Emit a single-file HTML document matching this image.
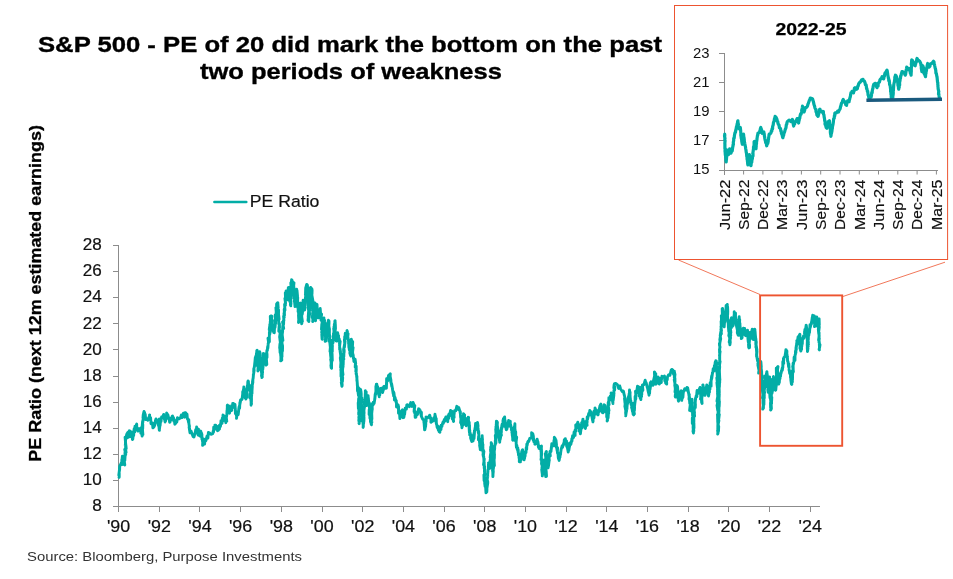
<!DOCTYPE html>
<html><head><meta charset="utf-8"><title>S&amp;P 500 PE Ratio</title>
<style>
html,body{margin:0;padding:0;background:#fff;}
body{width:953px;height:579px;overflow:hidden;position:relative;font-family:"Liberation Sans",sans-serif;}
</style></head><body>
<svg width="953" height="579" viewBox="0 0 953 579" style="position:absolute;left:0;top:0;will-change:transform;font-family:'Liberation Sans',sans-serif">
<rect width="953" height="579" fill="#ffffff"/>
<g font-weight="bold" font-size="22.9" fill="#000" stroke="#000" stroke-width="0.35" text-anchor="middle">
<text x="350" y="52" textLength="624" lengthAdjust="spacingAndGlyphs">S&amp;P 500 - PE of 20 did mark the bottom on the past</text>
<text x="350.9" y="78.7" textLength="302" lengthAdjust="spacingAndGlyphs">two periods of weakness</text>
</g>
<text transform="translate(41.4,293.4) rotate(-90)" text-anchor="middle" font-weight="bold" font-size="16.1" fill="#000" stroke="#000" stroke-width="0.3" textLength="336.5" lengthAdjust="spacingAndGlyphs">PE Ratio (next 12m estimated earnings)</text>
<line x1="214.4" y1="202.1" x2="246.3" y2="202.1" stroke="#02ADA6" stroke-width="2.5" stroke-linecap="round"/>
<text x="249.8" y="207.2" font-size="16.7" fill="#111" stroke="#111" stroke-width="0.2" textLength="69.6" lengthAdjust="spacingAndGlyphs">PE Ratio</text>
<g stroke="#8c8c8c" stroke-width="1" fill="none" shape-rendering="crispEdges">
<line x1="118.5" y1="245.0" x2="118.5" y2="512"/>
<line x1="112.5" y1="506.5" x2="820" y2="506.5"/>
<line x1="112.5" y1="506.5" x2="118.5" y2="506.5"/>
<line x1="112.5" y1="480.5" x2="118.5" y2="480.5"/>
<line x1="112.5" y1="454.5" x2="118.5" y2="454.5"/>
<line x1="112.5" y1="428.5" x2="118.5" y2="428.5"/>
<line x1="112.5" y1="402.5" x2="118.5" y2="402.5"/>
<line x1="112.5" y1="376.5" x2="118.5" y2="376.5"/>
<line x1="112.5" y1="349.5" x2="118.5" y2="349.5"/>
<line x1="112.5" y1="323.5" x2="118.5" y2="323.5"/>
<line x1="112.5" y1="297.5" x2="118.5" y2="297.5"/>
<line x1="112.5" y1="271.5" x2="118.5" y2="271.5"/>
<line x1="112.5" y1="245.5" x2="118.5" y2="245.5"/>
<line x1="159.5" y1="506" x2="159.5" y2="512"/>
<line x1="199.5" y1="506" x2="199.5" y2="512"/>
<line x1="240.5" y1="506" x2="240.5" y2="512"/>
<line x1="281.5" y1="506" x2="281.5" y2="512"/>
<line x1="322.5" y1="506" x2="322.5" y2="512"/>
<line x1="362.5" y1="506" x2="362.5" y2="512"/>
<line x1="403.5" y1="506" x2="403.5" y2="512"/>
<line x1="444.5" y1="506" x2="444.5" y2="512"/>
<line x1="484.5" y1="506" x2="484.5" y2="512"/>
<line x1="525.5" y1="506" x2="525.5" y2="512"/>
<line x1="566.5" y1="506" x2="566.5" y2="512"/>
<line x1="606.5" y1="506" x2="606.5" y2="512"/>
<line x1="647.5" y1="506" x2="647.5" y2="512"/>
<line x1="688.5" y1="506" x2="688.5" y2="512"/>
<line x1="728.5" y1="506" x2="728.5" y2="512"/>
<line x1="769.5" y1="506" x2="769.5" y2="512"/>
<line x1="810.5" y1="506" x2="810.5" y2="512"/>
</g>
<g font-size="16.5" fill="#111" stroke="#111" stroke-width="0.2" text-anchor="end">
<text x="101.8" y="511.1" textLength="9.6" lengthAdjust="spacingAndGlyphs">8</text>
<text x="101.8" y="485.0" textLength="19" lengthAdjust="spacingAndGlyphs">10</text>
<text x="101.8" y="458.9" textLength="19" lengthAdjust="spacingAndGlyphs">12</text>
<text x="101.8" y="432.8" textLength="19" lengthAdjust="spacingAndGlyphs">14</text>
<text x="101.8" y="406.8" textLength="19" lengthAdjust="spacingAndGlyphs">16</text>
<text x="101.8" y="380.7" textLength="19" lengthAdjust="spacingAndGlyphs">18</text>
<text x="101.8" y="354.6" textLength="19" lengthAdjust="spacingAndGlyphs">20</text>
<text x="101.8" y="328.5" textLength="19" lengthAdjust="spacingAndGlyphs">22</text>
<text x="101.8" y="302.4" textLength="19" lengthAdjust="spacingAndGlyphs">24</text>
<text x="101.8" y="276.3" textLength="19" lengthAdjust="spacingAndGlyphs">26</text>
<text x="101.8" y="250.3" textLength="19" lengthAdjust="spacingAndGlyphs">28</text>
</g>
<g font-size="16.6" fill="#111" stroke="#111" stroke-width="0.2" text-anchor="middle">
<text x="118.6" y="532.4" textLength="23.3" lengthAdjust="spacingAndGlyphs">&#39;90</text>
<text x="159.3" y="532.4" textLength="23.3" lengthAdjust="spacingAndGlyphs">&#39;92</text>
<text x="200.0" y="532.4" textLength="23.3" lengthAdjust="spacingAndGlyphs">&#39;94</text>
<text x="240.6" y="532.4" textLength="23.3" lengthAdjust="spacingAndGlyphs">&#39;96</text>
<text x="281.3" y="532.4" textLength="23.3" lengthAdjust="spacingAndGlyphs">&#39;98</text>
<text x="322.0" y="532.4" textLength="23.3" lengthAdjust="spacingAndGlyphs">&#39;00</text>
<text x="362.7" y="532.4" textLength="23.3" lengthAdjust="spacingAndGlyphs">&#39;02</text>
<text x="403.4" y="532.4" textLength="23.3" lengthAdjust="spacingAndGlyphs">&#39;04</text>
<text x="444.0" y="532.4" textLength="23.3" lengthAdjust="spacingAndGlyphs">&#39;06</text>
<text x="484.7" y="532.4" textLength="23.3" lengthAdjust="spacingAndGlyphs">&#39;08</text>
<text x="525.4" y="532.4" textLength="23.3" lengthAdjust="spacingAndGlyphs">&#39;10</text>
<text x="566.1" y="532.4" textLength="23.3" lengthAdjust="spacingAndGlyphs">&#39;12</text>
<text x="606.8" y="532.4" textLength="23.3" lengthAdjust="spacingAndGlyphs">&#39;14</text>
<text x="647.4" y="532.4" textLength="23.3" lengthAdjust="spacingAndGlyphs">&#39;16</text>
<text x="688.1" y="532.4" textLength="23.3" lengthAdjust="spacingAndGlyphs">&#39;18</text>
<text x="728.8" y="532.4" textLength="23.3" lengthAdjust="spacingAndGlyphs">&#39;20</text>
<text x="769.5" y="532.4" textLength="23.3" lengthAdjust="spacingAndGlyphs">&#39;22</text>
<text x="810.2" y="532.4" textLength="23.3" lengthAdjust="spacingAndGlyphs">&#39;24</text>
</g>
<text x="27" y="560.6" font-size="12.7" fill="#333" textLength="275" lengthAdjust="spacingAndGlyphs">Source: Bloomberg, Purpose Investments</text>
<path d="M119.1 477.3 L119.2 477.1 L119.2 473.1 L118.8 475.2 L119.3 471.1 L119.3 471.7 L119.6 466.3 L119.6 470.1 L119.7 466.4 L121.2 463.1 L121.8 463.8 L122.4 464.5 L121.9 459.4 L121.8 461.9 L122.4 456.2 L122.8 457.1 L122.7 459.9 L123.5 457.7 L124.3 463.8 L123.6 461.0 L124.4 464.7 L124.8 464.9 L124.2 460.4 L124.1 463.2 L124.9 458.4 L124.8 460.7 L125.2 454.7 L124.9 457.1 L125.0 452.6 L125.7 454.6 L124.7 449.3 L126.1 452.5 L125.5 448.7 L125.9 445.3 L126.2 448.6 L125.5 442.2 L125.3 445.7 L125.6 439.8 L125.5 442.2 L125.1 437.1 L126.0 439.1 L126.0 437.0 L126.8 434.0 L127.2 435.5 L127.5 432.8 L128.6 431.7 L127.8 437.5 L128.8 437.0 L129.4 433.3 L130.2 436.6 L129.3 430.8 L130.2 431.1 L130.2 433.8 L131.5 432.0 L131.3 436.4 L132.1 434.7 L132.3 438.9 L132.5 439.5 L132.4 436.6 L132.8 439.0 L133.3 433.3 L133.7 435.5 L133.8 431.9 L134.2 428.8 L134.8 431.9 L135.0 426.3 L135.6 427.8 L136.2 425.2 L136.7 424.0 L136.7 430.0 L137.6 428.1 L138.2 431.1 L139.1 430.6 L139.9 428.6 L140.9 427.9 L140.8 433.3 L141.5 430.5 L142.1 436.1 L142.2 435.3 L142.5 433.2 L142.9 434.7 L142.5 430.1 L142.3 431.8 L142.7 427.1 L142.7 428.7 L142.8 424.6 L142.1 426.8 L142.6 421.3 L142.7 423.2 L143.3 418.2 L143.0 420.3 L143.6 415.7 L143.0 417.9 L143.2 415.1 L144.0 411.5 L144.6 412.6 L144.5 416.6 L145.2 414.2 L145.7 419.6 L146.1 418.5 L147.8 420.2 L148.7 417.6 L148.7 419.2 L149.6 416.0 L149.5 415.0 L150.3 419.7 L150.6 417.7 L151.0 423.7 L151.6 422.7 L152.5 423.1 L152.9 427.8 L154.0 426.9 L154.4 424.1 L154.6 425.8 L155.5 420.3 L155.5 422.2 L155.7 420.2 L156.0 418.9 L157.8 422.7 L158.6 425.8 L158.9 423.1 L159.2 429.5 L159.0 426.7 L159.4 430.3 L159.3 430.1 L159.8 426.2 L159.4 427.9 L160.4 422.1 L160.1 425.6 L159.3 419.0 L160.0 420.2 L161.0 421.5 L161.6 416.9 L162.4 417.4 L163.4 415.1 L163.7 414.4 L164.5 419.4 L164.6 417.2 L165.0 421.7 L165.1 421.9 L165.2 418.9 L165.6 420.8 L165.9 416.3 L166.8 417.9 L166.6 413.0 L167.4 414.3 L167.2 418.0 L167.9 414.8 L168.7 418.9 L169.2 418.1 L169.6 422.2 L170.1 421.9 L171.4 418.1 L171.1 419.7 L172.1 416.5 L172.5 416.0 L173.5 420.0 L173.5 417.6 L173.8 421.1 L174.3 419.6 L174.8 424.2 L175.5 423.5 L176.2 421.2 L176.8 422.0 L177.5 417.6 L178.0 418.5 L179.1 418.9 L180.5 417.7 L181.3 415.1 L182.0 417.7 L183.0 414.3 L183.4 413.2 L184.2 416.8 L184.7 417.2 L185.1 412.6 L185.9 413.1 L186.5 416.0 L187.0 414.2 L187.4 419.0 L187.6 418.5 L187.9 418.9 L188.6 422.6 L188.8 419.6 L188.9 423.5 L189.5 427.5 L189.3 425.1 L189.6 428.7 L189.1 427.1 L190.0 432.9 L189.9 431.9 L191.0 431.0 L192.3 434.5 L193.2 436.6 L193.9 437.0 L194.5 434.9 L194.1 436.6 L195.3 432.1 L195.0 434.2 L195.7 429.6 L196.4 430.0 L196.6 427.7 L196.6 426.9 L197.6 432.9 L198.5 429.2 L198.2 435.1 L199.1 431.9 L199.0 435.3 L200.1 436.1 L200.2 431.7 L200.7 431.1 L201.3 434.3 L201.4 432.6 L201.6 436.3 L201.9 434.2 L201.9 439.3 L202.3 437.7 L202.5 441.4 L202.9 439.1 L202.6 445.4 L203.3 444.5 L203.6 441.1 L204.6 444.1 L205.0 439.1 L205.7 439.5 L205.9 440.7 L207.1 435.9 L207.9 438.1 L208.4 432.5 L209.4 432.8 L210.9 434.3 L212.8 433.6 L213.2 431.1 L213.5 432.2 L213.7 427.3 L214.9 429.3 L214.9 425.1 L215.8 425.2 L216.1 428.4 L217.4 426.6 L217.5 430.7 L218.3 430.3 L218.9 427.9 L219.5 428.9 L219.5 425.2 L220.4 426.6 L220.8 423.5 L221.0 420.6 L222.0 423.4 L222.3 418.1 L222.9 421.0 L223.0 415.0 L224.2 416.0 L224.2 419.0 L224.7 417.5 L225.8 422.1 L225.9 418.9 L225.8 422.7 L225.8 422.4 L226.0 418.9 L226.8 421.1 L226.1 416.1 L226.4 417.3 L227.2 412.4 L226.9 414.1 L227.0 410.6 L227.2 412.4 L227.2 408.4 L227.3 409.4 L227.3 405.3 L227.5 405.1 L227.8 409.1 L228.8 405.9 L228.9 410.4 L228.9 409.5 L229.5 411.8 L229.5 413.2 L230.9 406.8 L231.6 410.5 L231.6 405.7 L232.7 407.8 L232.7 403.4 L233.4 403.4 L234.3 407.5 L235.0 404.5 L235.2 407.7 L235.2 410.8 L235.3 408.3 L235.4 413.6 L235.8 411.1 L236.4 415.6 L236.8 413.8 L236.6 417.2 L236.5 418.3 L237.4 412.8 L238.2 414.6 L238.6 411.2 L238.9 407.8 L238.8 409.9 L239.2 406.4 L239.6 408.2 L239.9 402.5 L239.8 404.6 L240.8 399.6 L240.4 400.8 L242.1 399.1 L242.0 399.4 L242.7 394.0 L242.7 396.2 L242.7 391.7 L243.5 393.5 L243.5 389.7 L243.4 390.2 L243.8 387.9 L243.8 387.0 L244.1 391.7 L244.4 390.5 L245.2 395.9 L245.5 393.0 L245.1 397.8 L245.6 395.9 L245.9 399.1 L245.9 398.9 L246.9 394.2 L246.9 397.6 L246.7 391.2 L246.8 394.4 L246.3 389.3 L246.8 392.1 L247.2 386.2 L247.6 389.4 L247.4 385.4 L247.6 386.9 L247.8 381.8 L248.0 383.3 L248.1 380.9 L248.4 381.5 L248.6 385.6 L248.5 383.0 L248.7 388.7 L249.4 385.1 L249.9 388.7 L249.9 390.9 L250.4 390.4 L250.7 394.8 L250.0 393.0 L249.9 397.9 L250.4 394.7 L251.0 401.2 L250.9 397.8 L251.5 403.8 L251.1 400.4 L251.1 404.3 L251.1 405.2 L251.5 400.7 L251.2 401.1 L251.4 397.9 L251.5 399.8 L251.4 394.7 L251.6 396.3 L251.8 391.4 L252.0 393.4 L252.0 388.8 L252.0 391.1 L252.3 386.4 L252.1 387.0 L252.1 386.3 L252.9 382.0 L252.2 384.6 L252.9 380.5 L252.5 381.8 L253.1 378.2 L253.1 378.6 L253.4 375.4 L253.3 374.9 L253.4 375.1 L254.2 370.0 L253.7 372.3 L253.8 368.6 L253.9 369.1 L254.7 364.9 L254.3 367.2 L254.9 362.9 L254.6 364.7 L255.0 361.1 L255.3 357.5 L255.2 361.1 L255.9 356.0 L256.1 358.3 L256.5 353.2 L256.9 355.4 L257.1 350.1 L256.8 350.7 L256.7 352.8 L257.3 352.4 L257.2 355.6 L257.7 353.6 L257.4 360.2 L256.9 356.5 L256.9 362.9 L257.7 360.3 L257.2 365.6 L257.7 363.0 L258.1 366.6 L258.1 365.6 L257.9 371.0 L258.5 369.7 L258.3 366.1 L258.8 369.4 L259.0 362.9 L258.6 365.7 L259.0 360.4 L258.8 362.6 L259.0 357.8 L259.1 360.7 L259.7 355.5 L258.8 357.9 L259.3 352.7 L259.1 355.1 L259.7 351.6 L259.6 351.7 L260.4 356.2 L260.1 353.0 L260.5 359.3 L260.4 356.7 L260.3 360.2 L261.1 358.0 L260.2 363.8 L260.6 362.4 L260.5 365.7 L260.9 364.8 L260.5 369.0 L260.8 367.3 L261.3 370.9 L261.1 369.5 L261.8 374.3 L261.9 371.8 L261.5 376.0 L262.4 373.8 L261.9 377.5 L262.3 376.9 L261.9 373.6 L262.2 374.2 L262.1 370.9 L262.6 372.6 L262.1 367.0 L262.8 369.3 L263.1 364.9 L263.0 367.6 L263.4 361.4 L263.0 364.2 L263.7 358.8 L263.3 361.1 L263.4 357.5 L263.4 359.1 L263.4 353.5 L263.7 354.2 L263.9 356.6 L264.5 354.0 L264.1 359.6 L265.0 358.2 L265.4 363.3 L264.6 359.4 L266.1 365.2 L265.9 364.5 L266.1 361.4 L266.8 364.4 L266.3 357.7 L266.3 361.3 L265.8 354.9 L267.0 357.6 L267.0 353.8 L266.6 355.7 L266.9 350.4 L267.1 350.7 L267.4 350.2 L267.6 346.9 L267.9 348.2 L268.2 343.3 L268.0 345.1 L268.6 341.4 L268.6 342.7 L268.0 338.2 L269.4 341.8 L269.3 336.3 L269.2 337.8 L269.4 335.2 L269.4 332.1 L269.9 334.0 L269.6 329.9 L270.2 332.4 L270.0 327.3 L269.2 329.6 L269.9 325.0 L269.7 326.4 L270.3 322.5 L270.2 322.0 L270.5 322.8 L270.3 316.2 L270.4 320.2 L271.4 315.9 L271.9 316.2 L271.6 320.3 L271.9 319.3 L272.1 322.3 L272.1 321.6 L272.3 325.7 L272.8 324.7 L273.1 328.9 L272.6 325.7 L273.0 330.8 L273.1 328.7 L273.6 332.4 L274.3 332.7 L274.5 327.6 L274.2 329.1 L274.3 324.6 L275.0 327.7 L275.4 323.7 L274.9 320.3 L275.7 323.4 L275.6 318.2 L275.5 319.5 L275.2 315.0 L275.8 317.6 L276.0 313.0 L276.0 315.5 L276.7 309.1 L276.2 311.8 L275.9 307.6 L277.0 310.2 L277.0 304.6 L276.6 307.1 L276.6 303.9 L277.4 303.0 L277.8 302.7 L278.2 307.9 L277.6 306.2 L277.9 309.9 L277.2 307.2 L277.7 313.2 L278.6 309.9 L278.5 315.3 L278.5 313.9 L279.1 319.2 L278.6 316.6 L278.4 320.6 L278.4 319.4 L278.8 322.0 L278.8 324.2 L279.4 323.6 L279.5 327.8 L279.2 324.9 L278.8 331.1 L279.3 328.8 L279.6 332.2 L280.1 331.1 L280.0 334.1 L279.6 337.2 L279.8 335.6 L280.4 339.1 L279.8 338.4 L280.4 342.9 L280.5 341.1 L279.8 345.7 L280.0 343.7 L279.6 348.6 L280.2 344.8 L280.0 350.3 L279.9 348.6 L280.1 352.8 L280.6 351.8 L280.8 355.6 L280.6 354.6 L281.3 359.5 L280.9 355.4 L280.9 360.9 L280.6 360.9 L281.8 360.0 L281.6 356.9 L281.4 358.6 L281.6 354.5 L282.0 356.8 L281.9 351.5 L282.0 353.4 L282.4 348.0 L282.5 351.0 L282.5 345.3 L282.6 349.0 L282.2 343.9 L281.8 344.7 L282.3 339.6 L281.6 343.4 L282.0 338.8 L282.9 340.5 L282.2 334.7 L281.7 337.7 L282.3 334.1 L282.5 330.9 L282.6 332.3 L282.6 328.6 L282.6 330.0 L282.8 325.7 L283.7 328.5 L282.6 321.9 L283.6 324.3 L283.7 320.4 L283.5 320.3 L283.9 320.6 L283.6 316.1 L284.2 317.4 L284.0 313.1 L284.5 315.1 L284.2 309.2 L284.5 312.2 L284.5 308.4 L285.0 310.3 L284.7 306.4 L284.6 304.3 L285.4 305.3 L285.3 301.1 L285.6 303.1 L284.9 298.4 L285.2 300.8 L285.5 296.1 L285.5 297.6 L285.3 292.8 L285.5 295.4 L286.1 291.1 L286.1 290.9 L285.9 294.3 L286.6 292.9 L286.4 296.5 L286.6 294.9 L287.5 299.9 L287.5 299.5 L287.1 295.8 L287.6 299.4 L288.4 293.4 L287.8 296.7 L287.8 291.1 L288.0 292.8 L288.3 287.7 L288.3 289.7 L288.7 287.4 L289.2 287.4 L288.5 292.5 L289.2 290.2 L289.1 294.5 L289.1 292.1 L289.1 297.0 L289.3 294.0 L289.7 298.9 L289.2 297.2 L289.8 301.6 L290.2 300.4 L290.8 305.9 L290.4 304.7 L290.5 302.0 L291.0 304.0 L290.7 299.7 L290.7 300.3 L290.5 297.4 L290.9 298.6 L291.0 294.6 L291.3 295.8 L291.2 291.1 L291.3 294.3 L291.4 288.4 L291.5 290.2 L291.2 286.6 L291.1 288.2 L290.8 282.7 L291.8 286.1 L291.8 281.2 L291.4 282.6 L291.6 279.7 L291.9 280.0 L293.0 283.7 L293.3 284.0 L294.0 282.7 L293.4 289.2 L293.9 286.8 L293.8 290.1 L293.5 289.1 L293.3 294.3 L294.1 291.7 L294.0 295.6 L294.1 294.6 L294.0 298.6 L294.5 297.4 L294.3 301.7 L295.0 299.0 L294.9 304.6 L294.7 302.8 L295.0 306.6 L295.1 306.4 L295.1 303.2 L294.9 305.3 L295.0 300.0 L295.7 302.7 L295.5 298.4 L295.6 300.4 L295.4 294.5 L296.6 296.9 L296.7 292.4 L296.3 294.9 L296.6 289.2 L296.8 290.0 L296.9 292.4 L297.0 290.4 L297.5 296.0 L297.2 294.0 L297.7 298.9 L297.7 297.3 L297.6 302.1 L297.3 299.9 L297.8 305.1 L297.3 301.3 L297.7 307.6 L298.0 306.1 L298.2 308.2 L298.1 311.8 L298.3 309.3 L298.6 313.5 L298.6 311.9 L298.6 316.0 L298.5 315.1 L298.7 318.9 L298.9 318.1 L298.5 322.5 L299.0 322.0 L299.1 319.8 L299.2 320.4 L299.6 316.9 L299.8 318.4 L299.4 312.7 L299.2 315.4 L299.8 311.2 L299.1 313.8 L299.9 307.1 L299.7 310.0 L300.5 304.4 L300.1 307.6 L300.4 303.2 L300.2 303.0 L300.8 307.1 L299.9 303.6 L300.6 308.0 L301.0 306.3 L301.2 311.5 L300.6 309.9 L301.0 313.7 L301.0 312.8 L301.4 316.9 L301.2 314.6 L301.2 320.3 L301.7 317.2 L301.5 322.8 L301.9 320.9 L301.6 323.7 L301.8 323.4 L301.6 319.9 L302.4 321.5 L301.6 316.0 L301.6 318.6 L301.9 313.9 L301.7 317.1 L302.0 312.1 L302.3 314.1 L302.9 308.3 L302.7 311.0 L303.0 305.9 L302.8 307.5 L303.3 302.7 L302.7 304.6 L303.1 300.3 L303.0 301.3 L303.8 304.3 L303.9 302.2 L303.2 307.7 L304.0 305.8 L304.2 309.5 L304.7 309.9 L305.0 306.8 L304.2 310.0 L305.1 303.6 L304.9 307.0 L305.3 301.2 L305.1 303.1 L305.5 298.3 L305.2 300.5 L305.5 297.1 L305.5 298.6 L305.8 293.4 L305.4 294.8 L305.9 291.3 L305.5 293.3 L305.7 287.8 L306.2 290.8 L305.9 287.4 L306.7 284.4 L307.3 284.9 L307.0 287.5 L307.4 285.1 L307.7 289.7 L307.4 288.2 L307.3 293.0 L308.2 290.0 L308.2 295.5 L307.8 294.4 L307.6 298.4 L308.0 295.4 L307.9 300.0 L307.9 299.9 L308.7 304.4 L308.1 302.4 L308.2 305.9 L308.4 304.5 L308.4 308.1 L308.1 307.6 L308.6 310.6 L308.8 310.0 L308.6 314.6 L308.6 311.4 L308.2 317.0 L308.7 314.2 L308.0 320.3 L308.7 318.1 L308.9 320.3 L308.8 321.6 L308.9 315.5 L309.1 317.8 L309.7 313.1 L309.4 315.0 L309.3 311.2 L309.3 312.3 L309.1 307.7 L309.5 311.1 L309.7 306.0 L309.5 306.6 L309.6 302.6 L309.6 304.4 L310.0 301.0 L309.7 302.3 L309.9 296.8 L310.0 299.4 L310.0 295.9 L310.0 297.6 L310.6 291.8 L310.1 293.9 L310.3 290.3 L310.8 292.1 L310.4 287.9 L310.6 287.4 L312.0 289.2 L311.9 292.2 L312.1 290.1 L312.0 294.3 L311.9 292.6 L311.7 298.5 L311.8 294.8 L312.9 300.8 L312.1 299.0 L311.8 303.9 L311.9 300.8 L312.7 305.4 L312.5 302.8 L312.3 307.7 L312.6 305.7 L312.5 310.8 L313.0 308.2 L312.8 312.9 L312.8 312.2 L312.4 317.6 L312.5 315.4 L312.6 318.8 L313.2 316.3 L312.9 320.3 L312.7 321.5 L313.4 316.3 L313.3 318.1 L313.4 313.4 L313.8 314.9 L313.3 309.7 L313.2 313.4 L314.1 308.4 L314.3 309.3 L313.6 304.4 L313.9 307.5 L314.9 302.8 L314.6 303.0 L314.3 306.9 L314.4 304.4 L315.1 308.1 L314.7 307.0 L315.1 310.6 L315.1 309.5 L315.2 314.3 L315.4 312.4 L314.6 316.8 L315.5 313.8 L315.2 318.6 L315.5 318.0 L315.4 320.3 L315.5 320.8 L315.9 316.3 L316.1 318.1 L315.6 313.5 L315.6 315.5 L315.9 311.4 L316.1 312.9 L316.0 308.1 L316.4 310.1 L317.0 305.9 L316.7 307.8 L316.8 304.7 L317.0 304.4 L317.3 309.1 L316.9 307.7 L317.6 311.0 L317.3 310.4 L317.3 314.0 L317.4 312.3 L318.5 317.9 L318.0 316.8 L319.2 312.7 L318.6 315.5 L319.4 310.4 L320.2 313.5 L320.3 309.9 L320.2 308.5 L320.7 315.1 L320.7 313.1 L320.8 316.2 L321.6 314.2 L320.9 320.0 L321.5 318.2 L321.8 321.4 L322.0 322.0 L322.5 320.7 L322.4 326.8 L321.8 324.0 L321.5 329.4 L322.1 327.6 L321.7 332.7 L322.6 329.4 L322.1 335.1 L322.1 332.2 L322.4 336.2 L321.8 334.3 L322.1 339.2 L322.4 339.3 L322.2 336.9 L322.4 338.1 L322.4 333.4 L322.6 335.1 L322.4 330.1 L322.6 332.3 L322.6 327.0 L323.0 330.1 L323.3 324.2 L323.0 326.6 L323.3 322.6 L323.9 324.1 L323.6 319.3 L323.8 322.0 L323.7 318.5 L323.9 317.9 L324.0 322.9 L324.6 320.1 L323.9 326.1 L325.0 322.7 L324.4 328.2 L325.0 325.6 L324.4 330.3 L324.8 328.6 L324.8 332.4 L324.8 332.0 L325.3 336.0 L325.2 334.4 L325.7 339.4 L325.6 337.7 L325.2 341.4 L325.8 341.0 L326.2 337.4 L326.2 339.7 L326.3 335.2 L326.5 338.3 L327.0 333.1 L326.6 335.1 L327.1 330.1 L326.9 331.3 L327.5 328.3 L327.6 330.5 L327.4 325.6 L327.2 327.4 L328.3 321.9 L327.5 325.6 L328.4 320.3 L328.4 320.3 L329.0 324.1 L329.0 321.0 L328.9 325.8 L328.6 324.8 L329.5 329.3 L328.8 326.1 L328.7 332.3 L329.4 329.6 L329.4 333.3 L329.2 332.7 L329.8 336.4 L329.3 333.9 L329.6 337.5 L329.0 341.3 L329.9 339.0 L330.0 343.1 L329.6 340.3 L330.3 346.8 L330.1 344.1 L330.6 349.1 L330.4 346.7 L330.0 351.5 L331.2 348.3 L330.5 354.2 L330.5 352.4 L330.6 354.8 L331.2 357.9 L330.6 355.2 L331.4 361.6 L330.7 359.5 L331.6 364.4 L331.1 361.2 L331.2 366.0 L330.9 365.2 L331.2 367.8 L331.6 368.2 L331.5 363.4 L331.6 366.0 L331.4 360.5 L331.7 362.2 L331.9 357.4 L332.3 360.4 L332.1 354.0 L331.9 354.8 L332.1 354.5 L331.8 349.5 L332.3 351.6 L332.3 347.3 L332.2 349.5 L332.4 346.2 L332.2 342.8 L332.0 346.2 L332.3 340.3 L333.0 342.9 L333.7 337.0 L333.4 340.4 L333.5 334.9 L333.0 337.4 L333.6 334.1 L334.0 331.0 L334.3 334.1 L333.7 328.5 L334.1 330.4 L334.0 326.6 L334.7 328.6 L334.3 324.1 L334.6 324.4 L335.1 320.7 L334.8 321.1 L335.2 324.0 L335.2 321.8 L334.9 327.5 L335.3 323.9 L335.5 328.6 L335.5 328.2 L334.9 332.7 L335.1 329.9 L335.4 335.0 L335.3 332.1 L335.9 337.6 L336.0 335.7 L336.8 341.1 L336.2 339.0 L336.2 341.0 L336.7 340.8 L337.1 337.1 L336.8 339.1 L337.6 332.8 L337.9 334.1 L338.7 338.0 L338.4 335.7 L338.7 339.8 L339.2 338.8 L339.6 341.0 L339.5 344.2 L340.2 341.3 L339.5 346.8 L339.6 345.1 L339.7 349.6 L340.0 348.1 L340.5 351.9 L340.1 351.2 L340.7 355.4 L340.8 353.4 L340.6 357.2 L340.8 356.8 L341.2 361.3 L340.3 357.9 L340.8 361.7 L341.3 364.9 L340.9 362.3 L340.6 367.4 L341.2 366.3 L340.8 370.2 L341.1 367.2 L341.8 373.5 L341.0 371.5 L341.0 376.6 L341.2 374.4 L341.9 379.2 L341.4 376.5 L341.4 380.4 L341.4 379.2 L341.9 383.0 L341.5 382.8 L342.0 386.1 L341.9 386.2 L341.3 382.5 L342.2 385.2 L341.8 380.9 L342.4 381.7 L342.7 377.6 L342.0 380.8 L342.5 375.9 L342.3 376.1 L341.8 371.9 L343.0 374.7 L342.3 368.9 L342.4 371.5 L342.7 368.6 L342.8 366.2 L343.1 367.0 L342.9 363.1 L343.2 364.9 L343.3 360.7 L342.9 362.4 L342.7 356.9 L343.8 359.1 L342.9 354.2 L343.8 356.6 L344.0 351.3 L343.8 353.8 L343.6 349.0 L344.3 351.9 L343.9 347.9 L344.6 344.1 L344.4 347.3 L345.1 341.1 L344.7 343.4 L344.4 339.5 L344.6 341.5 L344.7 336.6 L345.0 339.6 L345.3 333.1 L345.2 334.1 L346.4 334.9 L347.4 331.5 L347.0 330.6 L347.9 335.1 L348.1 333.6 L347.6 338.6 L347.9 337.2 L348.7 341.9 L348.6 340.0 L348.6 343.9 L349.0 341.6 L348.9 347.4 L348.8 345.2 L349.1 347.9 L349.4 350.1 L349.9 349.6 L349.9 353.7 L350.2 351.5 L350.3 354.8 L350.9 356.0 L350.8 351.0 L350.5 353.2 L350.9 348.2 L350.4 349.9 L350.8 344.9 L351.1 346.3 L350.6 340.9 L351.3 344.1 L351.2 339.4 L351.4 339.3 L351.6 342.6 L351.4 340.1 L351.9 344.3 L352.7 341.7 L352.4 347.0 L352.1 346.2 L351.9 350.2 L353.1 347.6 L352.4 353.4 L352.2 349.6 L352.9 354.5 L353.1 354.8 L353.2 355.2 L353.4 358.5 L353.6 358.0 L353.9 361.5 L354.3 361.7 L355.1 359.4 L355.1 359.1 L355.7 363.6 L355.5 361.9 L355.2 367.1 L355.5 364.9 L356.2 368.6 L356.2 366.2 L355.8 371.3 L356.3 368.8 L356.1 374.0 L356.5 373.9 L356.4 374.1 L356.8 377.6 L356.9 376.1 L356.9 381.1 L357.0 379.7 L357.4 384.7 L357.2 382.4 L357.4 386.1 L357.8 386.3 L357.4 385.7 L357.5 391.0 L358.6 387.8 L358.5 393.2 L357.9 390.9 L358.5 395.5 L358.8 394.5 L359.1 399.7 L358.6 398.8 L358.6 399.3 L358.4 403.9 L358.5 401.4 L359.2 405.6 L358.2 402.8 L358.4 408.8 L358.7 405.8 L358.9 410.9 L359.1 409.2 L358.7 414.4 L358.7 412.2 L359.2 416.2 L359.3 414.4 L359.3 418.5 L358.8 417.1 L359.4 421.0 L359.2 419.9 L359.0 423.3 L359.2 423.6 L359.4 420.5 L359.0 422.8 L359.5 418.4 L358.8 420.9 L359.1 415.5 L359.3 417.6 L360.2 411.7 L359.4 414.1 L359.4 410.2 L359.6 411.8 L360.4 406.8 L359.9 408.6 L359.9 405.7 L360.0 406.2 L360.1 401.4 L360.2 403.8 L360.7 399.1 L360.1 401.1 L360.5 396.9 L360.0 399.4 L360.6 393.4 L360.1 395.8 L360.6 392.4 L360.4 394.6 L360.1 389.1 L360.6 389.4 L361.2 393.4 L360.9 390.9 L360.6 395.2 L361.2 393.4 L361.2 397.3 L361.2 395.5 L361.3 400.4 L361.9 398.0 L361.3 403.9 L361.1 401.4 L361.3 406.3 L361.6 404.7 L361.6 408.4 L361.7 407.2 L362.0 410.6 L362.1 409.0 L361.9 414.5 L362.2 412.6 L362.1 415.5 L361.6 413.5 L362.3 417.4 L362.0 420.8 L362.8 418.9 L362.9 422.9 L362.9 422.0 L363.2 425.6 L363.3 423.0 L363.3 426.7 L363.1 427.4 L363.4 422.5 L363.6 423.6 L363.9 419.8 L363.9 421.4 L364.0 417.4 L363.8 418.8 L364.0 414.7 L363.7 416.3 L363.9 411.9 L364.1 413.2 L363.8 409.7 L363.7 412.3 L364.5 406.2 L364.4 407.1 L364.7 406.6 L364.1 401.6 L365.2 404.8 L364.6 399.6 L365.3 402.0 L365.2 396.1 L365.1 398.3 L365.3 393.8 L365.7 396.8 L365.3 390.8 L365.4 391.5 L365.2 395.0 L366.2 391.8 L366.0 398.1 L366.2 395.6 L366.1 400.2 L366.8 397.4 L366.3 403.4 L366.4 400.7 L366.7 405.6 L366.9 405.0 L367.1 402.3 L367.1 403.1 L367.9 398.6 L367.8 400.5 L367.7 396.9 L368.2 398.9 L368.1 395.6 L368.0 395.6 L368.5 399.1 L368.3 398.4 L368.8 402.4 L368.6 400.9 L369.1 405.1 L369.3 402.8 L369.6 408.7 L369.3 406.7 L369.9 411.8 L369.2 409.6 L369.1 414.5 L369.6 413.3 L370.0 412.2 L369.9 418.2 L370.5 415.5 L370.5 420.5 L370.8 418.4 L370.5 421.9 L370.4 419.6 L371.0 423.6 L371.5 424.8 L371.3 419.9 L371.9 422.1 L370.9 415.4 L371.9 418.9 L371.7 412.8 L371.6 414.7 L371.9 411.9 L371.7 413.1 L372.3 408.6 L372.2 409.9 L372.2 407.1 L372.2 403.8 L373.0 405.1 L373.3 402.1 L374.1 403.5 L375.0 397.8 L374.7 398.8 L374.7 400.0 L375.2 394.1 L375.0 397.0 L375.7 392.2 L375.6 394.4 L376.0 389.8 L375.9 391.4 L375.9 386.3 L376.8 388.9 L376.3 384.2 L376.8 384.2 L377.1 388.3 L377.6 386.3 L378.1 390.6 L377.9 387.6 L377.8 393.0 L377.9 390.6 L378.8 395.0 L378.8 392.9 L379.3 396.7 L379.3 396.7 L379.1 391.7 L379.8 395.0 L379.7 388.9 L380.6 391.2 L380.5 388.4 L381.5 388.3 L382.0 391.9 L382.6 392.5 L383.6 388.7 L383.3 390.2 L383.6 386.8 L384.1 386.3 L385.2 388.4 L386.1 388.4 L386.5 385.2 L386.4 388.1 L386.5 382.5 L386.6 384.4 L386.6 378.8 L387.2 380.1 L387.7 380.6 L388.5 375.5 L388.8 377.1 L389.2 374.9 L390.3 373.7 L389.9 380.2 L390.1 376.1 L390.9 380.1 L390.9 382.7 L390.7 380.3 L391.8 386.6 L391.6 383.8 L392.6 389.4 L392.4 388.4 L392.4 388.5 L393.2 393.8 L393.5 391.8 L393.6 395.9 L393.9 392.7 L394.4 396.7 L394.4 400.1 L395.0 397.4 L396.3 403.0 L396.1 400.4 L396.5 402.9 L396.5 407.0 L398.1 404.8 L398.6 407.1 L398.5 410.6 L398.5 407.5 L398.5 413.3 L398.9 410.1 L399.9 415.7 L399.5 412.4 L399.9 418.6 L400.0 417.4 L400.6 415.1 L400.6 417.1 L400.9 411.4 L402.1 413.7 L402.1 410.2 L402.4 409.9 L402.6 413.9 L403.1 413.5 L403.0 417.7 L403.8 417.4 L404.5 414.0 L403.9 416.1 L404.9 411.6 L404.6 414.5 L405.2 408.1 L405.4 409.1 L406.4 409.0 L406.8 404.8 L407.5 404.6 L409.4 406.7 L410.7 402.6 L411.9 406.4 L413.0 402.4 L414.1 405.0 L414.1 407.3 L414.8 405.5 L414.1 411.6 L414.3 408.4 L414.7 413.1 L415.1 411.3 L415.1 416.4 L415.4 413.4 L415.2 417.4 L415.9 417.1 L416.6 412.7 L417.2 413.3 L417.5 414.5 L418.6 408.8 L419.3 409.1 L419.7 411.7 L420.2 410.4 L421.2 415.8 L421.4 412.2 L421.4 416.4 L422.8 419.4 L423.4 419.5 L423.8 419.9 L424.0 422.9 L424.1 421.6 L424.4 425.6 L424.1 423.2 L424.6 429.8 L425.0 427.2 L424.9 429.8 L424.8 429.8 L425.7 425.6 L425.6 426.5 L425.2 421.9 L425.8 424.4 L425.7 419.7 L426.2 421.5 L426.0 417.0 L426.6 417.4 L427.7 417.8 L429.7 415.3 L429.7 415.1 L430.6 418.9 L431.0 418.1 L430.9 422.3 L431.7 421.6 L433.8 420.5 L434.0 417.6 L434.6 419.4 L435.0 414.1 L435.0 415.2 L435.6 418.8 L435.4 416.0 L436.0 421.1 L436.2 418.4 L436.4 423.9 L436.0 421.6 L436.7 424.6 L437.2 427.4 L437.5 425.6 L438.3 430.0 L438.6 429.4 L439.1 431.8 L439.9 432.2 L439.5 426.9 L441.0 429.4 L441.2 425.3 L441.9 426.5 L442.2 424.6 L443.0 422.1 L443.3 423.4 L444.3 419.5 L444.6 421.4 L445.4 418.3 L445.8 417.1 L447.4 420.4 L447.7 421.7 L448.0 415.6 L448.6 418.6 L449.0 414.0 L449.5 415.8 L450.6 410.4 L450.5 411.1 L451.5 414.7 L451.9 411.1 L452.1 417.2 L452.0 415.4 L452.3 418.8 L452.9 418.3 L453.2 420.4 L453.6 421.5 L453.0 415.4 L454.1 417.4 L453.8 412.5 L454.0 415.1 L454.6 410.8 L454.7 411.1 L455.7 410.9 L456.8 406.3 L457.4 406.9 L458.2 409.4 L458.8 407.6 L459.9 411.1 L460.5 414.5 L460.3 411.6 L460.6 417.5 L460.8 415.2 L460.9 419.5 L461.2 417.1 L460.6 422.6 L461.3 420.2 L461.9 425.8 L461.4 424.1 L462.1 427.3 L461.9 427.7 L462.6 423.6 L462.1 426.3 L462.2 421.1 L463.3 425.0 L462.7 419.5 L463.0 421.0 L463.2 416.7 L463.6 418.2 L463.5 413.7 L464.0 414.2 L464.2 417.2 L464.6 414.9 L464.3 420.3 L465.4 418.3 L465.6 422.2 L465.4 420.0 L466.3 425.9 L466.1 424.6 L466.7 421.8 L466.6 423.5 L467.8 418.3 L467.9 420.3 L468.2 417.3 L468.6 417.4 L468.1 422.1 L468.4 418.6 L468.8 425.0 L469.2 422.1 L469.3 425.9 L469.5 425.2 L469.5 430.3 L469.1 427.1 L469.4 432.5 L469.8 430.3 L469.7 434.9 L470.2 432.9 L470.5 436.2 L470.9 434.7 L470.6 438.0 L471.8 441.5 L472.7 441.1 L473.0 438.9 L473.1 440.8 L473.8 435.0 L474.0 438.6 L474.5 432.7 L473.8 434.6 L474.7 430.3 L474.5 431.8 L475.1 428.3 L474.8 429.7 L475.4 426.6 L475.6 423.4 L477.4 426.1 L477.5 422.5 L477.6 422.9 L478.1 426.4 L477.7 424.8 L477.6 430.2 L478.1 428.3 L478.3 433.0 L478.7 431.2 L478.9 435.6 L478.6 433.1 L478.9 436.0 L478.4 439.7 L478.6 436.4 L479.9 442.5 L479.3 439.8 L479.7 443.6 L479.8 442.0 L479.7 446.2 L479.6 445.2 L480.4 449.8 L480.2 449.4 L480.6 447.0 L480.5 447.9 L481.1 442.9 L481.2 445.2 L481.0 440.9 L482.0 443.3 L481.9 438.2 L482.5 440.0 L482.2 437.0 L482.2 435.7 L482.0 441.3 L482.4 438.5 L482.3 443.8 L482.5 441.9 L482.6 446.1 L482.9 444.4 L482.8 448.2 L482.9 447.3 L482.8 451.6 L483.5 450.2 L483.0 455.0 L483.9 451.3 L483.3 456.4 L483.7 456.7 L483.7 456.3 L484.0 461.7 L484.3 458.9 L483.5 464.7 L484.2 462.2 L484.2 466.7 L484.3 464.8 L484.2 468.2 L484.7 466.6 L484.4 471.3 L484.7 469.3 L484.7 475.6 L484.6 472.0 L484.3 478.2 L483.9 474.9 L484.1 480.7 L484.8 478.6 L484.9 481.9 L484.7 480.5 L484.7 483.6 L485.1 486.5 L485.2 484.8 L486.1 489.3 L485.6 486.7 L486.0 492.8 L486.8 491.9 L486.6 489.0 L487.0 490.7 L486.8 486.8 L487.0 488.0 L487.8 482.9 L487.2 484.7 L487.7 481.1 L487.7 482.9 L486.9 477.5 L487.0 481.1 L487.7 476.0 L487.8 476.8 L487.6 473.5 L487.6 475.5 L488.0 470.7 L487.7 471.9 L488.4 467.9 L488.4 469.4 L488.4 464.6 L488.4 466.3 L488.7 463.0 L488.5 462.9 L489.5 466.5 L489.4 464.4 L489.9 467.1 L490.0 468.2 L490.4 463.0 L490.3 463.8 L490.7 459.4 L489.9 462.4 L490.6 456.9 L490.5 459.9 L490.5 455.6 L490.1 457.2 L490.8 453.0 L491.4 454.7 L490.5 449.5 L490.7 452.0 L490.7 446.9 L491.1 448.9 L491.7 443.7 L491.3 446.2 L491.4 443.2 L491.2 442.7 L491.5 447.1 L492.0 445.6 L492.3 450.9 L491.8 448.1 L491.7 452.7 L492.1 451.1 L491.7 456.6 L491.9 454.1 L492.0 457.3 L491.8 456.1 L491.9 460.6 L493.1 457.9 L492.4 463.5 L492.6 460.6 L492.3 465.8 L492.9 464.5 L492.6 469.9 L493.0 466.4 L493.3 472.1 L492.5 470.2 L493.1 473.9 L493.0 471.4 L493.0 475.3 L492.9 476.6 L492.8 471.1 L492.8 473.2 L493.3 468.9 L493.1 470.0 L493.8 464.9 L493.4 468.5 L493.7 463.5 L494.4 465.6 L494.1 460.0 L493.7 462.3 L494.4 457.7 L494.3 458.6 L494.5 454.2 L493.7 457.1 L494.2 451.4 L494.4 454.6 L494.2 449.5 L494.3 451.1 L494.7 448.4 L494.6 446.1 L494.6 447.0 L495.4 442.5 L495.4 444.6 L495.3 440.5 L495.9 442.9 L496.1 436.5 L495.6 440.3 L495.3 435.3 L496.0 435.9 L496.0 432.8 L496.0 433.9 L495.7 429.0 L496.3 430.4 L495.9 426.8 L496.6 428.8 L496.2 424.5 L496.3 425.4 L496.4 421.2 L496.8 421.4 L496.9 424.1 L497.4 422.1 L497.2 426.3 L497.2 424.5 L497.8 429.1 L497.6 426.8 L497.7 431.6 L498.2 431.8 L498.1 430.4 L498.8 435.7 L498.6 433.8 L499.1 438.4 L499.2 436.8 L499.5 440.9 L499.8 438.4 L499.7 442.2 L499.7 441.7 L500.2 437.3 L500.3 439.0 L500.8 435.4 L500.5 437.9 L500.2 432.0 L501.4 435.5 L500.8 430.3 L501.4 432.2 L501.3 428.1 L501.8 428.8 L501.7 426.6 L502.1 424.2 L503.0 426.4 L503.0 420.2 L503.5 422.1 L503.4 418.6 L504.0 420.2 L504.4 417.3 L504.6 416.9 L505.0 422.4 L505.1 420.4 L505.5 423.7 L505.7 423.2 L505.6 427.5 L505.6 424.4 L506.2 429.7 L506.5 429.7 L506.8 426.1 L507.0 429.0 L507.4 423.7 L507.7 426.8 L508.6 420.5 L508.6 421.4 L508.9 424.0 L510.3 421.3 L510.2 426.5 L510.5 424.3 L511.3 427.7 L511.4 430.0 L512.1 428.2 L511.9 432.8 L512.1 432.5 L512.3 435.6 L512.3 434.6 L512.8 439.1 L512.7 437.9 L512.7 440.1 L513.0 440.3 L513.1 436.5 L512.8 438.1 L513.8 433.5 L512.8 436.2 L513.7 431.3 L514.0 432.2 L513.7 428.3 L514.1 430.3 L514.5 426.1 L514.9 428.1 L514.8 424.6 L514.9 423.8 L514.9 429.9 L514.6 426.8 L515.2 432.3 L515.0 429.0 L515.4 434.0 L515.7 431.8 L515.7 436.8 L515.9 435.9 L515.5 440.9 L516.7 437.1 L516.1 442.1 L516.2 442.2 L516.1 442.1 L516.4 447.4 L516.8 445.1 L517.3 449.7 L517.8 447.8 L518.0 452.1 L518.2 449.6 L518.3 452.5 L518.5 455.1 L518.8 453.6 L519.1 458.1 L519.4 456.7 L519.3 461.8 L519.9 458.2 L520.4 461.9 L520.3 461.6 L521.3 456.6 L520.8 458.5 L521.4 453.8 L521.3 455.4 L521.7 451.6 L522.0 452.9 L522.0 450.5 L522.6 449.7 L522.4 454.5 L522.9 453.7 L523.4 457.1 L523.8 454.7 L523.7 459.7 L524.1 459.8 L524.8 456.7 L524.5 458.4 L524.7 454.6 L525.1 456.2 L525.3 451.8 L526.0 452.7 L526.2 447.8 L526.2 448.4 L526.7 449.2 L526.8 444.1 L527.1 445.4 L527.8 441.8 L528.3 441.1 L528.8 441.4 L529.8 438.3 L530.8 438.0 L531.7 437.9 L531.6 432.7 L532.8 433.9 L533.4 436.3 L532.9 434.5 L533.3 440.3 L533.5 437.6 L533.8 441.7 L534.4 440.9 L535.0 444.3 L534.9 444.2 L535.6 442.2 L536.4 443.6 L537.0 440.1 L537.1 439.1 L538.4 445.4 L537.9 441.8 L538.4 447.1 L538.9 445.9 L539.0 448.4 L540.0 449.1 L541.1 446.3 L541.5 446.1 L541.0 451.7 L541.4 448.6 L541.6 453.4 L541.2 450.3 L541.2 456.9 L541.7 453.9 L541.0 459.6 L541.4 457.0 L541.4 460.7 L541.8 459.4 L541.5 463.8 L542.0 462.1 L541.9 465.8 L542.2 464.9 L542.6 470.0 L542.0 467.3 L541.9 470.9 L541.7 469.6 L542.2 473.6 L543.0 471.7 L542.4 475.3 L542.3 475.9 L542.3 470.4 L543.4 473.9 L543.0 469.2 L543.1 470.6 L543.5 466.3 L543.6 467.7 L544.3 462.1 L543.5 465.9 L544.3 460.0 L544.4 460.8 L544.5 463.6 L544.8 462.4 L544.5 466.3 L544.6 463.6 L545.3 469.3 L545.5 467.6 L545.5 470.8 L544.9 469.5 L545.4 473.9 L545.2 471.8 L545.7 476.6 L545.9 476.4 L546.1 473.6 L546.5 476.2 L546.2 470.8 L545.9 473.5 L546.0 467.4 L546.1 469.2 L545.7 466.1 L545.9 466.7 L546.1 463.6 L545.5 465.0 L546.2 460.7 L546.0 461.0 L545.8 457.8 L546.0 459.7 L545.3 453.6 L546.2 456.2 L546.4 451.4 L546.0 452.2 L545.6 455.8 L545.9 452.7 L546.8 458.1 L546.8 455.4 L546.8 459.6 L546.8 458.7 L548.0 463.8 L547.1 461.2 L546.9 466.4 L548.2 463.4 L547.9 467.3 L548.1 467.8 L548.7 464.2 L548.4 466.4 L549.0 461.8 L548.5 463.3 L548.6 459.5 L549.3 460.6 L548.9 456.1 L548.9 459.1 L549.4 454.0 L550.3 456.0 L549.9 451.8 L550.2 451.2 L551.0 451.5 L551.4 446.8 L551.3 449.2 L551.8 443.6 L552.9 445.0 L553.6 445.8 L554.0 440.3 L554.5 442.4 L554.3 437.3 L555.4 438.8 L555.1 442.5 L556.0 440.2 L556.5 444.8 L556.2 442.3 L556.2 447.2 L556.4 445.8 L557.2 451.0 L557.6 447.7 L557.4 451.2 L557.5 453.3 L558.0 453.1 L558.3 457.9 L558.7 455.4 L558.4 458.6 L559.0 458.2 L559.1 460.5 L559.2 460.1 L560.0 455.7 L560.0 457.2 L560.0 453.6 L560.5 454.7 L560.8 451.3 L560.6 453.0 L561.2 449.1 L562.2 445.7 L562.5 447.3 L563.2 445.0 L564.1 442.1 L564.0 444.3 L564.3 439.8 L564.8 442.5 L565.3 438.8 L565.4 438.8 L566.0 443.8 L566.5 440.9 L566.7 446.5 L567.2 443.2 L567.4 447.9 L567.2 446.5 L568.2 452.0 L568.2 451.2 L568.2 448.4 L568.8 450.4 L569.5 446.0 L569.5 446.8 L569.8 442.9 L570.3 442.9 L570.9 444.3 L572.0 438.4 L571.9 441.3 L572.6 435.6 L573.0 436.7 L573.5 437.5 L574.1 431.9 L575.1 435.4 L575.1 429.9 L575.7 430.5 L576.0 431.2 L575.7 425.0 L576.9 428.1 L576.8 424.0 L576.8 425.5 L577.8 422.2 L577.9 422.8 L578.5 427.1 L578.9 424.5 L579.4 429.1 L579.9 426.7 L579.3 431.1 L579.4 428.8 L580.2 432.5 L580.4 433.8 L581.1 428.4 L581.0 429.6 L581.5 425.5 L582.1 427.8 L581.6 422.8 L582.0 424.2 L583.0 419.1 L582.7 420.1 L583.4 422.3 L583.7 421.2 L584.6 426.5 L584.2 424.2 L585.2 428.0 L585.4 428.4 L585.8 425.6 L585.7 426.5 L586.5 423.0 L587.1 425.3 L586.5 420.6 L587.1 422.5 L587.2 417.0 L587.5 418.0 L587.6 419.2 L588.7 413.4 L589.2 415.4 L589.8 410.4 L590.6 411.8 L591.0 414.9 L591.1 412.0 L592.0 417.0 L591.6 414.7 L592.6 420.6 L592.3 418.4 L593.1 421.1 L592.9 421.9 L593.6 416.0 L594.0 417.8 L594.1 414.4 L594.2 415.1 L594.1 411.0 L595.3 414.1 L595.0 408.0 L595.2 408.7 L595.3 412.6 L596.2 409.8 L596.8 413.9 L597.5 412.7 L597.9 414.9 L598.2 414.4 L598.3 411.1 L598.6 412.2 L599.6 407.6 L599.6 410.9 L599.8 406.2 L599.9 408.6 L600.5 404.6 L600.9 404.1 L602.1 410.0 L601.8 407.9 L602.1 412.4 L602.5 409.7 L603.0 412.9 L603.2 412.1 L604.0 407.4 L604.3 410.1 L604.2 404.8 L605.1 405.6 L605.4 407.8 L605.5 407.5 L605.8 411.9 L605.7 409.4 L606.8 414.3 L606.7 411.7 L606.7 416.9 L607.1 415.4 L607.4 420.1 L607.2 418.0 L607.6 420.1 L607.1 421.0 L608.3 414.7 L608.1 417.8 L608.1 413.1 L608.2 415.1 L607.5 409.4 L608.7 413.5 L608.4 407.8 L609.0 410.7 L608.2 405.5 L608.2 406.9 L608.2 402.4 L609.1 404.6 L608.8 401.4 L608.9 397.6 L610.1 399.9 L610.3 396.2 L610.8 396.5 L611.3 394.2 L611.1 393.0 L611.9 399.6 L612.4 396.4 L612.7 401.2 L612.2 399.5 L613.0 403.5 L613.0 403.5 L612.8 401.1 L612.9 401.8 L613.0 397.7 L613.2 400.4 L613.9 394.8 L613.4 397.0 L614.0 393.2 L613.8 394.1 L614.0 389.8 L613.8 392.4 L614.7 386.7 L614.7 390.1 L614.1 384.6 L613.8 387.9 L614.4 383.8 L616.0 383.5 L617.5 384.9 L618.6 388.4 L619.7 385.9 L620.6 389.0 L622.4 391.7 L623.3 391.1 L623.6 391.8 L624.2 395.1 L624.2 394.5 L624.8 397.3 L625.0 400.0 L624.5 398.3 L625.0 403.0 L625.4 401.0 L624.9 406.7 L625.5 404.4 L625.9 409.0 L624.9 406.2 L625.8 410.7 L626.0 408.6 L625.6 413.1 L625.8 412.0 L625.8 414.9 L625.7 415.8 L626.4 411.0 L626.4 411.9 L626.9 407.6 L627.0 409.2 L626.9 406.0 L627.0 407.4 L627.3 403.4 L627.8 403.5 L627.9 401.4 L627.9 398.4 L628.5 400.0 L628.5 396.4 L628.9 399.0 L629.1 393.9 L629.5 395.2 L629.5 390.0 L629.6 391.1 L629.6 394.4 L630.1 392.1 L629.9 397.9 L630.1 395.3 L630.2 399.1 L630.3 397.8 L630.6 402.2 L630.9 400.9 L631.1 404.8 L631.8 403.2 L631.7 407.6 L631.6 407.7 L631.9 408.0 L632.5 411.4 L632.7 410.5 L633.1 414.2 L633.7 414.9 L633.5 412.1 L634.4 414.0 L633.6 409.2 L634.4 410.5 L634.6 407.1 L634.4 408.8 L634.0 403.0 L634.5 406.6 L635.0 401.9 L634.9 403.1 L635.4 399.4 L635.1 400.5 L635.1 396.5 L635.8 399.0 L635.8 395.2 L635.5 391.2 L636.4 393.4 L637.0 389.7 L636.6 392.5 L637.5 386.2 L638.3 386.9 L638.7 389.6 L639.4 387.2 L639.1 393.1 L639.9 390.2 L639.0 395.9 L640.0 394.5 L640.1 398.0 L640.1 396.9 L640.8 399.4 L640.9 399.6 L640.8 395.3 L641.6 396.5 L641.3 393.0 L641.8 394.4 L641.6 390.3 L642.3 391.3 L641.8 386.8 L642.9 390.2 L642.4 385.1 L642.8 384.9 L643.9 384.7 L645.2 380.2 L645.5 381.8 L646.1 383.8 L646.2 382.8 L647.4 387.9 L646.8 385.0 L647.6 388.0 L648.3 392.0 L647.8 389.4 L648.8 393.9 L648.8 392.3 L649.0 395.2 L649.1 394.6 L649.5 389.9 L649.6 393.4 L649.8 387.6 L650.0 389.5 L650.7 385.1 L649.8 388.4 L650.3 382.6 L650.4 385.3 L651.1 381.8 L652.0 382.4 L653.2 384.9 L653.0 385.1 L653.5 381.2 L653.7 381.6 L654.4 376.9 L653.5 380.6 L654.7 375.7 L654.7 377.7 L654.4 371.9 L655.0 372.8 L654.7 376.3 L655.8 373.8 L655.3 379.1 L655.3 376.4 L656.0 382.0 L655.7 379.1 L655.8 384.3 L656.4 383.2 L656.4 380.0 L657.9 382.9 L658.0 376.9 L658.1 377.1 L658.1 381.2 L659.1 378.2 L659.2 384.1 L659.8 383.2 L660.0 380.3 L661.3 382.6 L661.3 378.1 L661.5 379.7 L661.9 376.3 L664.0 377.1 L664.5 376.1 L664.8 380.9 L665.1 380.5 L665.7 383.2 L666.7 384.0 L666.5 379.2 L667.3 379.7 L667.4 377.1 L668.5 374.8 L669.7 374.5 L669.9 375.4 L671.2 370.1 L671.3 371.4 L671.9 369.4 L672.5 369.9 L673.6 374.3 L673.6 373.7 L674.0 371.1 L674.3 371.1 L674.2 374.6 L674.6 372.4 L674.3 377.5 L675.0 374.2 L674.5 379.1 L674.9 378.0 L675.0 382.0 L674.2 379.8 L674.9 383.2 L674.8 385.9 L675.0 384.8 L675.2 388.3 L675.5 387.1 L675.0 391.8 L675.3 390.4 L675.8 394.9 L675.6 392.3 L675.2 396.4 L675.4 397.0 L675.6 394.4 L675.6 395.8 L675.8 391.8 L676.6 394.0 L676.4 387.4 L676.6 390.8 L676.5 385.1 L677.1 385.8 L677.6 389.3 L677.5 386.5 L678.0 392.1 L677.8 389.9 L677.5 393.1 L678.0 392.7 L677.8 396.1 L677.7 395.4 L677.9 398.6 L678.4 396.5 L678.3 400.4 L678.5 401.2 L679.3 396.9 L678.7 398.7 L680.0 393.1 L680.0 395.3 L680.6 391.8 L681.2 390.7 L681.5 396.2 L680.7 393.9 L681.5 397.8 L681.1 396.8 L681.8 399.6 L681.7 400.4 L682.8 394.7 L682.9 397.5 L683.2 393.4 L682.8 395.5 L683.5 391.8 L684.7 388.7 L685.7 390.1 L686.6 389.9 L687.0 387.5 L687.6 387.6 L688.6 393.1 L687.9 390.6 L688.7 393.5 L689.0 395.8 L689.3 394.4 L689.0 399.2 L689.5 397.0 L689.5 400.4 L689.8 403.5 L690.1 402.0 L690.3 406.6 L690.2 405.2 L689.6 410.4 L690.6 406.6 L690.4 410.8 L690.7 410.6 L690.8 405.7 L690.6 408.2 L690.9 404.9 L690.9 406.6 L691.0 401.4 L691.7 403.9 L691.6 400.4 L692.1 399.3 L692.0 406.0 L691.8 403.3 L691.9 407.4 L691.6 405.1 L692.5 410.9 L692.4 407.9 L692.6 412.6 L692.5 412.4 L692.6 415.5 L692.6 416.0 L693.4 415.1 L692.7 420.4 L692.3 418.0 L692.3 423.5 L693.0 421.4 L693.2 425.2 L693.2 424.1 L693.1 428.1 L693.7 425.9 L693.0 431.4 L693.3 430.2 L693.3 432.4 L693.5 433.0 L693.1 426.9 L693.9 430.9 L693.1 424.8 L694.0 428.0 L693.9 422.8 L693.1 425.3 L693.5 419.9 L693.9 421.4 L693.8 417.3 L693.4 419.7 L693.8 414.4 L694.6 416.1 L694.2 411.9 L694.5 412.9 L694.0 408.8 L694.4 409.1 L694.2 409.8 L695.4 403.9 L695.3 407.6 L695.0 402.5 L695.2 403.7 L695.5 398.3 L695.6 399.6 L695.4 400.0 L696.2 395.8 L696.9 396.6 L696.8 393.5 L697.1 390.5 L698.8 393.1 L699.0 390.1 L700.0 387.4 L700.2 387.5 L700.6 391.1 L700.7 389.1 L701.0 393.2 L700.8 390.8 L700.7 396.1 L701.3 394.0 L700.5 399.0 L701.7 396.4 L701.5 400.5 L701.5 398.4 L701.6 402.2 L702.1 403.5 L701.7 397.7 L701.8 398.9 L702.2 394.6 L701.8 398.2 L702.5 392.9 L702.5 395.5 L702.8 390.3 L702.0 392.1 L703.2 386.4 L703.3 389.8 L702.8 384.9 L703.0 384.9 L703.2 388.3 L703.2 386.0 L703.8 390.0 L704.0 389.4 L704.1 394.1 L704.8 390.5 L704.7 395.4 L705.1 395.3 L705.6 391.5 L705.5 393.5 L705.6 389.5 L705.8 391.8 L706.5 386.6 L706.1 388.7 L706.7 385.4 L706.8 384.9 L706.9 388.4 L707.5 386.1 L707.6 390.3 L708.2 387.9 L708.5 394.0 L707.7 391.5 L708.5 395.8 L708.5 396.1 L708.9 393.9 L708.7 394.3 L709.3 389.8 L709.5 392.1 L709.3 388.1 L710.0 389.1 L709.9 386.6 L710.2 382.6 L711.1 386.2 L711.1 379.4 L711.1 380.6 L711.2 380.7 L711.6 376.1 L711.7 378.7 L712.5 373.0 L712.1 375.0 L712.9 371.9 L713.2 368.6 L714.1 370.8 L714.4 365.6 L714.6 365.9 L714.7 367.3 L715.2 362.2 L715.2 364.2 L715.8 360.7 L716.3 361.0 L716.0 365.4 L716.8 362.7 L716.1 368.4 L716.9 366.8 L716.8 369.4 L717.1 372.7 L716.6 370.4 L717.5 375.7 L717.1 372.6 L717.3 377.5 L717.3 376.0 L717.8 381.4 L716.8 377.9 L717.3 382.1 L717.5 380.6 L717.4 385.1 L716.9 382.6 L717.4 387.3 L717.6 386.5 L717.5 390.0 L717.6 389.2 L717.5 391.8 L718.0 394.9 L717.5 393.2 L717.9 397.9 L718.0 394.7 L717.0 401.0 L717.4 398.2 L717.4 403.7 L717.4 400.4 L717.8 404.6 L718.2 402.8 L717.6 407.9 L717.0 405.2 L717.7 410.3 L718.0 409.6 L718.1 413.0 L718.2 410.6 L718.0 416.5 L717.5 414.3 L717.7 418.1 L717.6 417.6 L717.8 422.2 L717.7 420.4 L718.4 424.9 L717.7 421.3 L718.2 426.9 L717.8 425.6 L717.9 429.2 L718.7 426.8 L718.3 432.0 L717.6 430.4 L718.0 433.3 L717.7 434.1 L718.3 428.9 L718.5 431.3 L718.7 426.2 L717.8 429.0 L717.9 423.2 L717.9 425.5 L718.9 420.7 L718.3 422.2 L718.5 418.8 L718.5 420.7 L719.3 414.5 L718.5 417.2 L718.5 412.6 L718.7 414.4 L719.0 410.3 L719.0 411.2 L718.9 409.1 L719.0 407.0 L718.9 407.6 L718.6 403.0 L719.2 406.4 L719.4 401.3 L719.2 402.3 L719.1 398.5 L718.9 400.1 L719.2 396.3 L719.1 397.7 L719.3 393.9 L719.1 394.2 L718.7 390.1 L719.3 392.4 L719.1 387.2 L718.8 390.1 L719.0 384.8 L719.4 387.0 L719.5 383.2 L719.3 384.4 L719.5 380.2 L719.7 383.1 L719.7 377.9 L719.9 380.0 L719.2 374.4 L719.7 377.9 L719.5 373.0 L719.5 374.1 L719.4 370.3 L719.2 372.2 L719.7 366.7 L719.5 369.5 L719.6 363.4 L719.4 365.6 L720.1 361.4 L719.6 364.5 L719.7 359.5 L719.7 362.0 L719.7 356.7 L719.6 358.9 L719.8 353.5 L719.5 355.7 L720.1 351.5 L719.6 352.9 L719.5 349.1 L719.6 350.9 L719.9 346.2 L720.0 347.4 L719.4 343.5 L719.6 346.0 L719.9 342.7 L720.7 338.6 L719.9 340.9 L720.5 337.5 L719.8 339.7 L720.8 334.1 L720.2 335.7 L720.8 331.6 L721.4 333.8 L720.9 329.1 L721.5 330.8 L721.0 326.6 L721.2 326.1 L721.3 326.3 L721.1 321.2 L721.8 323.5 L721.9 318.8 L721.5 320.4 L721.3 315.6 L722.0 317.6 L722.3 314.4 L722.2 316.0 L722.4 311.0 L722.3 312.8 L722.2 308.6 L722.6 308.5 L722.7 310.7 L722.9 310.1 L722.7 313.3 L723.5 311.9 L723.1 316.8 L723.5 314.7 L723.0 319.5 L722.7 317.0 L723.7 322.6 L723.0 320.5 L724.0 325.6 L723.5 323.7 L723.6 326.1 L724.2 326.8 L724.6 320.8 L724.5 322.9 L724.4 319.4 L725.0 321.8 L725.3 317.8 L725.3 314.1 L725.8 317.6 L725.5 312.5 L725.8 313.5 L726.0 308.6 L726.0 312.0 L726.1 305.5 L726.2 308.8 L727.0 305.4 L727.3 304.4 L727.1 309.0 L727.6 306.7 L727.8 312.3 L727.7 309.8 L727.7 314.6 L727.5 312.8 L727.5 317.9 L727.5 314.7 L727.7 320.3 L728.2 319.9 L727.9 319.6 L728.2 323.7 L728.2 321.7 L728.4 327.5 L729.0 324.2 L728.8 328.5 L728.5 327.9 L728.8 331.7 L729.7 329.2 L728.8 335.7 L729.2 333.5 L729.1 336.5 L729.3 335.2 L729.8 339.3 L729.8 338.5 L729.2 342.1 L730.2 339.6 L729.8 344.1 L729.9 344.7 L730.3 342.0 L729.7 343.7 L730.1 339.9 L730.1 340.5 L729.8 336.3 L730.5 338.6 L730.5 334.0 L730.8 335.2 L730.1 330.0 L730.9 332.8 L730.5 328.6 L730.3 331.2 L730.7 326.4 L731.4 327.8 L730.7 322.1 L731.1 324.1 L731.0 320.4 L731.0 322.7 L731.3 318.2 L731.5 317.8 L731.1 321.7 L732.3 319.2 L731.8 323.5 L732.8 321.8 L733.0 325.5 L733.0 326.1 L732.9 323.7 L733.1 325.6 L733.5 320.6 L733.6 322.0 L733.6 318.4 L733.5 319.7 L734.3 314.0 L734.4 317.3 L734.2 311.8 L734.4 312.6 L734.6 315.6 L735.5 313.1 L735.5 318.5 L735.4 316.3 L736.0 321.4 L735.8 319.2 L736.1 321.9 L736.4 325.7 L736.1 323.6 L736.8 327.5 L736.7 326.7 L737.5 330.7 L737.5 329.1 L737.3 333.0 L737.8 330.9 L737.8 334.4 L738.3 335.3 L737.8 330.9 L738.0 331.1 L738.0 328.1 L737.9 330.3 L737.9 324.4 L738.2 327.2 L738.2 321.9 L738.7 324.7 L739.4 318.9 L739.2 321.0 L739.2 317.3 L739.2 316.8 L738.8 320.0 L739.3 318.4 L739.6 321.9 L739.7 319.6 L739.3 325.7 L739.9 323.1 L740.1 328.0 L740.2 326.8 L740.5 330.4 L740.2 329.1 L741.0 333.4 L741.0 331.3 L740.7 336.0 L741.2 334.0 L741.5 338.4 L741.3 338.5 L741.5 334.5 L742.1 337.8 L742.1 332.6 L742.6 335.1 L742.6 331.2 L742.9 331.6 L743.1 328.7 L743.3 328.2 L743.7 330.6 L744.6 328.4 L744.9 334.0 L745.2 332.8 L745.4 335.4 L746.0 335.7 L746.6 331.7 L746.9 332.3 L747.5 330.2 L747.5 330.1 L747.7 334.2 L748.1 332.0 L748.3 337.8 L747.7 334.4 L748.3 340.4 L747.9 338.2 L748.3 342.2 L748.5 341.5 L748.8 346.3 L748.5 344.4 L748.7 347.3 L748.9 347.9 L749.6 344.9 L749.5 347.6 L749.1 341.3 L749.2 344.2 L749.5 340.0 L749.3 342.5 L749.8 337.0 L750.2 338.7 L750.3 334.9 L750.6 336.0 L750.5 332.8 L750.6 332.3 L751.4 332.7 L752.2 329.2 L752.4 329.3 L752.7 333.5 L753.1 331.5 L752.8 336.5 L753.4 333.3 L753.0 339.4 L752.9 336.2 L753.7 339.6 L754.1 339.6 L754.5 335.1 L754.0 337.6 L754.1 333.6 L754.9 335.2 L754.6 330.8 L754.4 332.4 L754.7 329.2 L754.9 329.6 L755.0 333.4 L755.1 331.5 L755.4 336.2 L755.3 334.6 L755.8 339.5 L754.9 336.1 L756.0 341.4 L755.9 338.7 L755.8 344.6 L756.3 341.8 L755.9 347.2 L756.1 344.7 L756.9 349.8 L756.4 348.9 L756.3 347.7 L756.7 352.8 L757.0 350.9 L756.6 356.7 L756.5 353.7 L757.1 357.9 L756.6 355.5 L757.6 361.1 L758.0 358.9 L758.3 364.7 L757.9 363.4 L758.5 362.1 L758.6 367.9 L757.9 364.9 L758.8 369.5 L759.2 368.6 L758.6 373.1 L759.3 372.7 L759.5 370.0 L759.5 371.4 L759.8 366.8 L759.8 368.0 L760.5 364.2 L760.7 365.9 L760.1 361.5 L760.5 361.3 L760.6 364.2 L760.9 361.8 L761.3 367.2 L761.0 366.0 L761.1 369.5 L761.1 367.8 L761.7 372.3 L761.1 369.7 L762.0 375.7 L761.7 374.3 L761.7 378.1 L762.0 377.9 L762.2 377.1 L761.5 383.1 L762.2 380.6 L762.0 384.1 L762.6 382.3 L762.5 386.7 L762.3 384.6 L762.2 390.3 L762.1 387.1 L762.7 393.3 L762.7 391.1 L762.9 395.1 L763.0 393.9 L762.5 398.0 L762.9 396.5 L763.3 400.4 L763.0 397.4 L763.0 403.4 L763.3 400.8 L763.3 406.5 L763.4 404.1 L762.7 409.1 L763.5 407.9 L763.1 403.9 L763.4 407.0 L763.8 402.7 L763.9 404.8 L764.0 399.6 L763.6 401.5 L763.8 397.1 L764.3 398.0 L764.2 395.2 L764.3 395.9 L764.2 392.1 L764.6 392.7 L763.9 388.0 L764.1 391.4 L764.5 386.0 L764.6 389.0 L765.0 383.0 L764.7 384.7 L765.2 379.9 L764.8 382.3 L765.1 380.0 L764.9 375.9 L765.2 378.8 L766.6 373.5 L766.1 376.7 L766.9 371.6 L766.8 371.7 L767.3 375.1 L766.6 372.8 L766.9 376.9 L767.4 375.6 L767.3 381.3 L767.3 379.3 L767.4 382.4 L767.8 380.4 L767.9 385.4 L767.4 384.3 L767.6 387.6 L767.7 385.5 L768.3 391.5 L767.8 389.7 L768.2 392.4 L768.6 392.4 L768.1 388.1 L769.1 391.1 L768.8 386.1 L768.8 388.4 L769.0 383.4 L768.9 384.1 L769.8 379.9 L769.2 382.1 L769.7 376.9 L769.7 377.9 L769.8 380.8 L769.8 379.5 L769.8 383.0 L769.2 380.9 L770.4 387.2 L770.0 385.2 L769.9 388.7 L769.9 387.0 L770.2 390.6 L770.1 390.5 L770.5 395.2 L769.6 391.7 L770.0 397.9 L770.4 394.7 L770.4 399.8 L770.6 398.6 L770.7 401.4 L771.2 399.7 L771.1 405.4 L770.5 402.7 L770.6 407.7 L771.1 406.0 L770.6 410.0 L770.9 410.0 L771.1 407.1 L771.4 408.7 L771.2 404.9 L771.0 407.1 L771.2 402.6 L771.6 403.4 L771.5 399.3 L771.6 401.1 L771.8 397.1 L771.3 399.0 L771.2 392.8 L771.3 395.8 L772.2 391.5 L772.0 393.3 L772.1 387.9 L772.6 391.3 L772.1 385.3 L772.2 388.7 L772.1 384.0 L772.2 384.3 L772.4 382.1 L772.5 379.2 L773.4 381.2 L773.8 377.9 L773.4 376.6 L774.1 382.7 L774.1 380.9 L775.1 385.6 L774.3 383.3 L774.8 387.0 L774.7 384.9 L775.2 390.0 L775.5 390.3 L775.5 387.9 L775.8 389.8 L776.2 384.8 L776.2 386.4 L775.8 381.4 L775.9 384.2 L776.3 380.2 L775.9 380.9 L776.5 376.9 L776.4 378.5 L776.5 373.3 L776.7 376.8 L776.8 371.6 L776.4 373.7 L776.3 368.1 L777.3 371.1 L777.1 367.5 L778.0 366.5 L777.2 372.1 L777.6 370.6 L777.7 373.9 L777.8 373.6 L778.1 376.7 L777.9 376.0 L778.0 379.3 L778.7 378.4 L778.6 383.9 L778.5 382.0 L778.6 384.1 L778.8 383.8 L779.5 379.2 L779.3 382.6 L779.0 377.0 L780.0 378.7 L780.1 373.8 L780.6 376.2 L780.6 373.8 L781.5 370.9 L780.9 373.8 L782.3 367.8 L782.3 370.4 L782.7 367.5 L782.9 365.0 L782.8 367.7 L782.8 361.7 L783.7 363.4 L783.4 358.5 L783.7 360.6 L784.0 357.3 L784.2 357.2 L784.9 356.8 L785.7 351.6 L785.3 355.2 L785.9 349.6 L786.2 349.9 L786.5 352.8 L786.9 350.9 L786.8 355.4 L787.0 354.5 L787.5 358.9 L787.3 356.4 L787.6 361.1 L787.9 361.3 L788.0 361.8 L788.6 366.7 L788.8 363.7 L789.1 368.7 L789.0 366.5 L789.1 370.5 L789.1 369.2 L789.7 373.6 L790.0 373.8 L790.5 373.7 L790.5 377.6 L790.6 376.2 L790.9 380.7 L790.8 378.3 L791.4 384.1 L791.0 381.0 L791.6 384.1 L791.8 384.4 L791.8 380.6 L792.4 382.0 L792.2 378.0 L792.5 379.7 L792.6 374.1 L792.4 377.4 L792.0 371.0 L792.6 374.2 L793.1 368.7 L793.4 371.7 L792.7 366.2 L793.2 369.0 L793.1 365.5 L793.1 363.2 L793.2 365.2 L794.3 359.7 L794.0 361.5 L794.1 357.3 L795.0 360.3 L795.0 355.1 L795.2 355.1 L795.4 354.7 L795.5 351.0 L795.9 352.7 L796.0 347.6 L796.3 350.2 L796.2 346.1 L796.4 346.8 L796.7 342.9 L797.2 344.7 L796.8 340.7 L797.2 340.6 L797.4 341.5 L798.1 336.7 L798.9 338.6 L799.3 335.4 L799.9 334.2 L799.9 339.1 L799.6 338.0 L799.5 341.9 L799.5 339.5 L799.7 344.5 L800.5 342.2 L799.9 348.1 L801.0 344.3 L800.3 349.8 L800.3 347.7 L800.8 351.0 L801.0 350.6 L801.3 345.8 L801.6 349.3 L801.3 344.5 L801.7 346.8 L802.2 342.1 L802.3 344.4 L802.4 340.6 L802.9 337.6 L803.1 338.8 L803.5 336.0 L803.9 338.2 L804.5 334.4 L804.6 331.1 L805.7 334.4 L804.9 329.4 L805.3 331.0 L806.3 325.4 L806.4 328.8 L806.1 325.1 L806.3 325.6 L807.0 330.5 L805.8 327.2 L806.4 331.4 L807.2 329.4 L806.3 334.6 L806.1 332.7 L807.1 337.7 L806.9 336.5 L807.6 341.4 L807.2 338.9 L807.4 342.7 L807.3 341.8 L807.2 345.5 L807.3 343.2 L807.3 349.2 L807.6 345.8 L807.4 351.5 L807.6 351.0 L808.0 348.1 L807.6 350.7 L807.7 344.3 L808.2 346.4 L808.0 341.7 L808.5 344.1 L808.1 340.2 L807.8 342.6 L808.2 337.4 L808.3 339.8 L808.4 334.5 L808.8 335.4 L809.0 333.3 L809.5 329.9 L809.5 332.7 L809.8 327.6 L809.7 330.2 L810.0 324.8 L810.1 328.0 L811.1 324.0 L811.8 320.9 L811.4 324.0 L812.3 317.3 L811.9 321.1 L812.7 315.3 L813.2 315.7 L813.3 318.6 L814.3 315.9 L814.5 322.0 L814.0 318.5 L814.5 323.7 L814.9 322.3 L814.5 326.6 L815.3 326.1 L815.5 324.0 L816.1 326.0 L816.3 321.1 L816.4 321.4 L816.7 316.9 L816.9 317.8 L818.0 319.6 L818.6 319.9 L819.1 318.9 L819.3 325.0 L818.6 322.5 L818.7 325.8 L818.5 325.3 L818.5 329.9 L819.3 326.8 L818.8 331.1 L818.3 329.2 L818.8 334.2 L819.1 332.6 L819.0 337.7 L819.2 335.7 L818.6 340.0 L819.3 338.4 L818.9 341.9 L819.0 340.3 L819.6 344.7 L819.3 343.4 L819.5 348.0 L820.0 344.7 L819.1 349.5 L819.4 349.9" fill="none" stroke="#02ADA6" stroke-width="2.9" stroke-linejoin="round" stroke-linecap="round"/>
<rect x="760.1" y="295.4" width="82.1" height="150.4" fill="none" stroke="#ED5430" stroke-width="1.9"/>
<line x1="678.5" y1="260" x2="760" y2="294.5" stroke="#ED5430" stroke-width="0.8"/>
<line x1="945" y1="262.2" x2="842.6" y2="296.6" stroke="#ED5430" stroke-width="0.8"/>
<rect x="674.5" y="5.5" width="273.1" height="254" fill="#fff" stroke="#ED5430" stroke-width="1"/>
<text x="811" y="35.1" font-size="17" font-weight="bold" stroke="#000" stroke-width="0.25" text-anchor="middle" fill="#000" textLength="71.2" lengthAdjust="spacingAndGlyphs">2022-25</text>
<g stroke="#8c8c8c" stroke-width="1" fill="none" shape-rendering="crispEdges">
<line x1="724.5" y1="53.0" x2="724.5" y2="174.5"/>
<line x1="719" y1="170.5" x2="938" y2="170.5"/>
<line x1="719" y1="170.5" x2="724.5" y2="170.5"/>
<line x1="719" y1="140.5" x2="724.5" y2="140.5"/>
<line x1="719" y1="111.5" x2="724.5" y2="111.5"/>
<line x1="719" y1="82.5" x2="724.5" y2="82.5"/>
<line x1="719" y1="53.5" x2="724.5" y2="53.5"/>
<line x1="743.6" y1="170" x2="743.6" y2="174.5" shape-rendering="auto"/>
<line x1="762.9" y1="170" x2="762.9" y2="174.5" shape-rendering="auto"/>
<line x1="782.1" y1="170" x2="782.1" y2="174.5" shape-rendering="auto"/>
<line x1="801.4" y1="170" x2="801.4" y2="174.5" shape-rendering="auto"/>
<line x1="820.7" y1="170" x2="820.7" y2="174.5" shape-rendering="auto"/>
<line x1="840.0" y1="170" x2="840.0" y2="174.5" shape-rendering="auto"/>
<line x1="859.3" y1="170" x2="859.3" y2="174.5" shape-rendering="auto"/>
<line x1="878.5" y1="170" x2="878.5" y2="174.5" shape-rendering="auto"/>
<line x1="897.8" y1="170" x2="897.8" y2="174.5" shape-rendering="auto"/>
<line x1="917.1" y1="170" x2="917.1" y2="174.5" shape-rendering="auto"/>
<line x1="936.4" y1="170" x2="936.4" y2="174.5" shape-rendering="auto"/>
</g>
<g font-size="14" fill="#111" text-anchor="end">
<text x="709.4" y="174.2" textLength="16.5" lengthAdjust="spacingAndGlyphs">15</text>
<text x="709.4" y="145.1" textLength="16.5" lengthAdjust="spacingAndGlyphs">17</text>
<text x="709.4" y="115.9" textLength="16.5" lengthAdjust="spacingAndGlyphs">19</text>
<text x="709.4" y="86.8" textLength="16.5" lengthAdjust="spacingAndGlyphs">21</text>
<text x="709.4" y="57.6" textLength="16.5" lengthAdjust="spacingAndGlyphs">23</text>
</g>
<g font-size="14.1" fill="#111" stroke="#111" stroke-width="0.15" text-anchor="end">
<text transform="translate(729.5,179.6) rotate(-90)" textLength="50.3" lengthAdjust="spacingAndGlyphs">Jun-22</text>
<text transform="translate(748.8,179.6) rotate(-90)" textLength="50.3" lengthAdjust="spacingAndGlyphs">Sep-22</text>
<text transform="translate(768.1,179.6) rotate(-90)" textLength="50.3" lengthAdjust="spacingAndGlyphs">Dec-22</text>
<text transform="translate(787.3,179.6) rotate(-90)" textLength="50.3" lengthAdjust="spacingAndGlyphs">Mar-23</text>
<text transform="translate(806.6,179.6) rotate(-90)" textLength="50.3" lengthAdjust="spacingAndGlyphs">Jun-23</text>
<text transform="translate(825.9,179.6) rotate(-90)" textLength="50.3" lengthAdjust="spacingAndGlyphs">Sep-23</text>
<text transform="translate(845.2,179.6) rotate(-90)" textLength="50.3" lengthAdjust="spacingAndGlyphs">Dec-23</text>
<text transform="translate(864.5,179.6) rotate(-90)" textLength="50.3" lengthAdjust="spacingAndGlyphs">Mar-24</text>
<text transform="translate(883.7,179.6) rotate(-90)" textLength="50.3" lengthAdjust="spacingAndGlyphs">Jun-24</text>
<text transform="translate(903.0,179.6) rotate(-90)" textLength="50.3" lengthAdjust="spacingAndGlyphs">Sep-24</text>
<text transform="translate(922.3,179.6) rotate(-90)" textLength="50.3" lengthAdjust="spacingAndGlyphs">Dec-24</text>
<text transform="translate(941.6,179.6) rotate(-90)" textLength="50.3" lengthAdjust="spacingAndGlyphs">Mar-25</text>
</g>
<path d="M724.7 134.1 L724.8 136.0 L724.5 135.8 L725.0 138.6 L724.8 138.8 L724.9 141.3 L725.1 140.7 L724.8 143.5 L724.9 143.5 L724.9 145.7 L724.9 146.2 L724.9 148.7 L725.2 148.4 L725.0 151.1 L725.1 151.7 L725.2 152.7 L725.3 154.7 L725.3 154.6 L725.8 157.3 L725.7 157.5 L726.0 159.8 L725.8 159.9 L726.2 162.0 L726.2 161.6 L726.5 158.9 L726.5 158.4 L726.7 156.3 L726.9 155.7 L727.0 153.7 L727.1 153.7 L727.2 151.1 L727.3 150.2 L727.5 152.4 L728.4 152.2 L728.5 154.6 L729.0 153.9 L729.1 151.4 L729.4 150.7 L729.7 148.8 L730.2 150.0 L730.7 152.1 L731.0 153.2 L731.5 151.3 L732.2 151.1 L732.5 148.8 L732.7 147.0 L732.9 146.9 L733.0 144.8 L733.4 144.7 L733.3 142.4 L733.5 141.4 L733.7 140.5 L733.7 138.3 L734.2 138.2 L734.4 135.9 L734.4 135.8 L734.7 134.1 L735.0 132.6 L735.5 132.4 L735.7 130.2 L735.9 130.3 L736.2 128.2 L736.5 126.4 L736.9 126.4 L737.1 124.0 L737.4 123.6 L737.6 121.8 L737.9 120.8 L737.9 123.0 L738.1 122.8 L738.6 125.6 L738.7 125.9 L739.0 127.9 L739.1 128.9 L740.3 127.5 L740.4 128.2 L740.7 130.9 L740.6 130.2 L740.8 132.9 L740.9 133.0 L740.8 135.3 L740.9 135.5 L741.3 138.2 L741.3 138.5 L741.6 139.3 L741.8 141.7 L741.9 142.1 L742.3 144.3 L742.6 143.6 L742.5 141.0 L742.9 141.2 L742.9 138.7 L743.1 138.4 L743.1 135.8 L743.5 135.8 L743.5 134.1 L743.6 134.6 L743.8 136.8 L744.0 137.4 L744.3 139.7 L744.2 139.7 L744.5 142.1 L744.7 142.9 L744.8 143.6 L745.3 146.3 L745.4 146.4 L745.7 148.8 L746.1 150.9 L746.0 150.6 L746.3 152.8 L746.4 152.7 L746.7 155.6 L746.7 156.1 L747.0 156.6 L747.1 159.4 L747.3 159.2 L747.5 161.8 L747.5 161.7 L747.7 163.9 L747.9 164.9 L748.0 163.1 L748.3 162.7 L748.6 160.4 L748.5 160.3 L748.9 158.2 L748.9 157.7 L749.3 155.5 L749.4 154.6 L749.5 156.4 L749.7 156.4 L750.0 158.7 L750.0 159.3 L750.2 161.2 L750.3 161.7 L750.4 163.7 L750.9 163.7 L750.9 165.7 L751.1 165.0 L751.2 162.3 L751.7 162.5 L752.0 159.5 L752.3 159.0 L752.4 158.3 L752.6 155.8 L753.0 156.1 L753.0 153.2 L752.8 153.5 L753.2 151.0 L753.2 150.7 L753.5 148.8 L753.5 146.8 L753.8 146.8 L754.1 144.7 L754.1 144.8 L754.1 141.7 L754.5 141.4 L754.7 143.3 L755.0 142.9 L755.2 145.6 L755.5 145.3 L755.7 148.0 L756.0 148.8 L756.1 147.1 L756.2 146.7 L756.2 144.1 L756.5 143.9 L756.5 141.9 L756.6 141.8 L757.0 139.3 L757.0 138.5 L757.1 138.1 L757.5 135.2 L757.7 135.3 L757.9 133.3 L759.4 132.6 L759.9 130.5 L760.0 130.8 L760.5 128.1 L760.8 127.5 L761.1 129.1 L761.5 129.2 L761.8 131.8 L762.0 131.9 L762.3 133.3 L763.8 131.9 L764.1 133.8 L764.2 133.6 L764.4 136.1 L764.6 136.6 L764.8 138.5 L765.2 140.4 L765.3 140.3 L765.7 142.7 L766.2 142.5 L766.5 145.1 L766.7 145.8 L767.1 144.1 L767.7 143.6 L768.2 141.4 L768.3 139.7 L768.3 139.9 L768.7 137.2 L768.8 137.1 L769.0 134.9 L769.2 134.1 L770.0 134.2 L771.1 132.6 L771.3 131.0 L771.8 131.1 L772.0 128.8 L772.6 128.8 L772.6 126.7 L773.2 124.7 L773.2 125.0 L773.5 122.2 L774.0 121.6 L774.1 121.0 L774.5 118.6 L774.9 118.1 L775.1 116.4 L776.1 117.4 L777.0 119.4 L777.2 121.3 L777.8 121.6 L778.0 123.5 L778.5 124.5 L779.0 125.1 L779.4 127.8 L780.2 128.2 L780.6 128.8 L780.8 131.2 L781.2 130.8 L781.4 133.2 L781.7 134.1 L782.1 134.9 L782.6 137.1 L782.9 137.7 L783.2 135.8 L783.6 135.6 L783.9 133.5 L784.3 132.6 L784.7 131.7 L785.3 129.2 L785.8 128.2 L786.0 127.6 L786.3 124.8 L786.7 124.5 L787.0 122.6 L787.3 121.6 L789.0 120.1 L790.8 121.6 L791.4 121.2 L792.3 119.4 L792.6 119.8 L792.9 122.5 L793.1 123.1 L793.4 125.0 L793.7 126.0 L794.1 124.0 L794.6 124.2 L795.1 121.7 L795.6 121.6 L796.2 120.9 L797.1 118.6 L797.7 119.4 L798.0 122.0 L798.6 123.0 L798.9 121.0 L799.1 120.9 L799.4 118.2 L799.7 118.6 L800.0 116.4 L800.5 114.1 L801.1 114.2 L801.5 112.0 L801.8 109.8 L802.0 109.4 L802.4 107.2 L802.5 106.2 L802.8 108.2 L803.4 107.7 L803.6 110.3 L803.8 110.2 L804.0 112.0 L804.4 111.1 L805.1 108.8 L805.5 107.6 L806.4 107.4 L807.4 106.2 L808.1 103.8 L808.3 103.6 L808.9 101.8 L809.4 100.2 L809.8 99.7 L810.3 98.1 L812.5 98.8 L812.8 99.7 L813.3 101.7 L813.4 101.6 L813.9 104.1 L814.0 104.7 L814.5 105.8 L815.0 108.1 L815.5 109.1 L815.9 109.5 L816.0 111.8 L816.5 112.2 L816.8 114.3 L816.9 115.0 L818.1 116.4 L818.5 114.7 L818.6 114.6 L818.9 112.0 L819.2 111.9 L819.4 109.6 L819.9 109.1 L820.7 111.3 L821.6 112.0 L822.8 111.3 L823.4 111.7 L823.5 114.3 L823.9 114.8 L824.2 117.3 L824.3 117.4 L824.6 119.4 L824.7 121.0 L825.1 121.1 L825.0 124.3 L825.6 124.2 L825.8 126.0 L826.2 127.6 L826.9 128.2 L827.2 126.4 L827.4 126.0 L827.7 124.0 L828.1 123.3 L828.4 121.6 L829.4 120.8 L829.5 121.6 L829.6 123.7 L829.8 124.4 L830.0 126.9 L830.2 126.4 L830.2 128.8 L830.3 129.2 L830.5 131.6 L830.3 131.7 L830.6 134.2 L830.9 134.2 L830.9 136.3 L831.1 135.2 L831.3 133.3 L831.5 133.1 L832.0 130.6 L832.0 129.9 L832.4 128.2 L832.5 126.5 L832.6 126.2 L833.1 123.9 L833.1 123.8 L833.4 121.7 L833.4 121.6 L833.6 119.0 L833.8 118.6 L834.2 118.3 L834.4 115.5 L834.8 115.7 L834.8 113.2 L835.3 112.8 L836.5 112.8 L837.5 111.3 L838.5 112.0 L839.2 110.1 L840.0 109.0 L840.2 108.4 L840.6 106.4 L840.9 105.9 L841.3 103.9 L841.5 103.2 L842.1 102.7 L842.7 100.5 L843.2 99.5 L843.9 100.9 L844.7 101.7 L845.0 102.0 L845.8 104.8 L846.5 105.4 L846.9 103.3 L847.1 102.9 L847.6 101.0 L849.1 101.7 L849.3 99.7 L849.5 99.8 L850.1 97.1 L850.2 97.2 L850.6 95.1 L850.9 92.9 L851.5 93.0 L852.0 91.4 L853.5 92.9 L853.9 90.7 L854.2 90.9 L854.4 88.2 L855.0 87.7 L856.7 89.2 L857.4 88.5 L857.8 86.0 L858.1 86.2 L858.6 84.1 L859.3 82.8 L860.1 82.4 L860.9 81.1 L861.8 79.7 L863.0 79.4 L863.6 81.0 L864.4 81.1 L865.0 82.6 L865.4 84.7 L866.1 84.8 L866.4 87.0 L866.6 88.7 L866.8 88.4 L867.4 91.4 L867.7 91.2 L867.9 92.9 L868.1 95.0 L868.5 95.2 L868.7 97.0 L868.9 98.0 L871.1 97.3 L871.5 95.1 L871.5 95.5 L871.7 92.6 L872.2 92.7 L872.3 90.7 L872.7 88.8 L872.9 88.6 L873.2 86.3 L873.3 85.9 L873.8 84.1 L875.5 83.3 L876.0 84.3 L876.6 86.8 L877.0 87.7 L877.3 85.9 L878.1 86.0 L878.2 83.2 L878.8 82.6 L879.5 82.0 L880.0 79.7 L880.7 78.9 L881.4 78.5 L882.1 76.7 L883.0 77.4 L883.6 78.9 L883.9 78.0 L884.1 75.9 L884.4 76.2 L884.9 73.3 L885.1 73.0 L885.8 72.3 L887.0 70.1 L887.2 70.8 L887.7 74.0 L887.6 73.8 L888.0 76.0 L888.4 78.1 L888.6 78.2 L888.8 80.8 L889.2 80.3 L889.5 82.6 L889.6 84.6 L890.1 85.0 L890.4 87.7 L890.5 88.5 L890.6 88.9 L890.6 91.7 L890.9 91.8 L891.0 94.7 L891.3 94.4 L891.2 97.1 L891.4 98.0 L892.9 97.3 L892.8 95.4 L893.1 95.2 L893.3 92.9 L893.3 92.8 L893.1 90.4 L893.4 90.8 L893.5 88.3 L893.5 88.6 L893.7 86.0 L893.6 86.2 L893.9 84.1 L894.2 82.5 L894.4 82.2 L894.6 79.9 L894.8 79.7 L894.8 77.0 L895.1 76.8 L895.4 75.2 L895.9 75.5 L896.8 77.5 L897.1 79.2 L897.1 79.4 L897.5 81.8 L897.7 81.9 L897.9 84.1 L898.0 85.7 L898.4 86.3 L898.5 88.3 L898.7 89.2 L898.9 87.6 L899.2 87.4 L899.2 84.5 L899.7 85.0 L899.5 82.1 L899.8 81.8 L900.1 79.9 L900.2 78.9 L900.5 78.2 L900.7 75.7 L901.1 75.5 L901.4 73.4 L901.7 73.1 L902.0 71.6 L903.7 72.3 L904.4 73.3 L905.2 75.2 L905.6 74.5 L905.9 71.6 L906.0 72.0 L906.3 69.4 L906.4 69.1 L906.7 67.2 L907.2 67.5 L908.1 69.4 L909.3 68.6 L909.6 70.5 L910.0 70.7 L910.4 73.4 L910.8 73.5 L911.1 75.2 L911.1 74.8 L911.2 72.4 L911.3 71.8 L911.3 69.8 L911.3 69.1 L911.4 66.6 L911.6 66.8 L911.5 64.7 L911.3 64.5 L911.6 61.6 L911.6 61.4 L911.7 59.8 L912.6 60.7 L913.4 62.8 L914.1 64.8 L915.2 65.7 L915.4 64.1 L915.8 63.8 L916.1 61.7 L916.5 61.7 L916.8 59.0 L917.0 58.4 L918.0 60.0 L918.9 60.6 L919.8 61.5 L920.8 63.5 L921.0 65.7 L921.3 65.5 L921.3 67.8 L921.3 68.3 L921.8 71.1 L921.8 71.6 L921.9 69.6 L922.5 69.4 L922.5 66.8 L922.8 65.7 L923.2 67.6 L923.5 67.4 L923.5 70.3 L923.9 70.5 L923.9 73.2 L924.3 73.8 L924.9 74.9 L925.5 76.7 L925.6 75.8 L925.7 73.4 L926.0 73.4 L926.0 71.0 L926.3 71.3 L926.6 69.4 L926.8 67.5 L926.9 67.4 L927.4 64.6 L927.7 63.5 L928.2 65.2 L928.6 65.4 L929.1 67.2 L929.9 66.3 L930.5 63.8 L931.4 63.5 L932.4 62.7 L933.5 61.3 L934.0 61.8 L934.2 64.2 L934.6 65.0 L934.7 65.8 L935.2 68.3 L935.5 69.0 L935.8 70.8 L935.9 73.1 L936.3 73.2 L936.7 75.5 L936.9 76.7 L937.1 77.4 L937.3 79.9 L937.4 80.2 L937.5 82.0 L937.8 82.5 L937.8 84.7 L938.0 85.5 L937.9 86.1 L938.2 88.6 L938.1 88.6 L938.8 91.6 L938.7 91.5 L938.5 94.2 L938.8 94.0 L939.0 95.8 L939.4 98.0" fill="none" stroke="#02ADA6" stroke-width="3.2" stroke-linejoin="round" stroke-linecap="round"/>
<line x1="866.4" y1="100.2" x2="942" y2="99.2" stroke="#1A5A7E" stroke-width="3.4"/>
</svg>
</body></html>
